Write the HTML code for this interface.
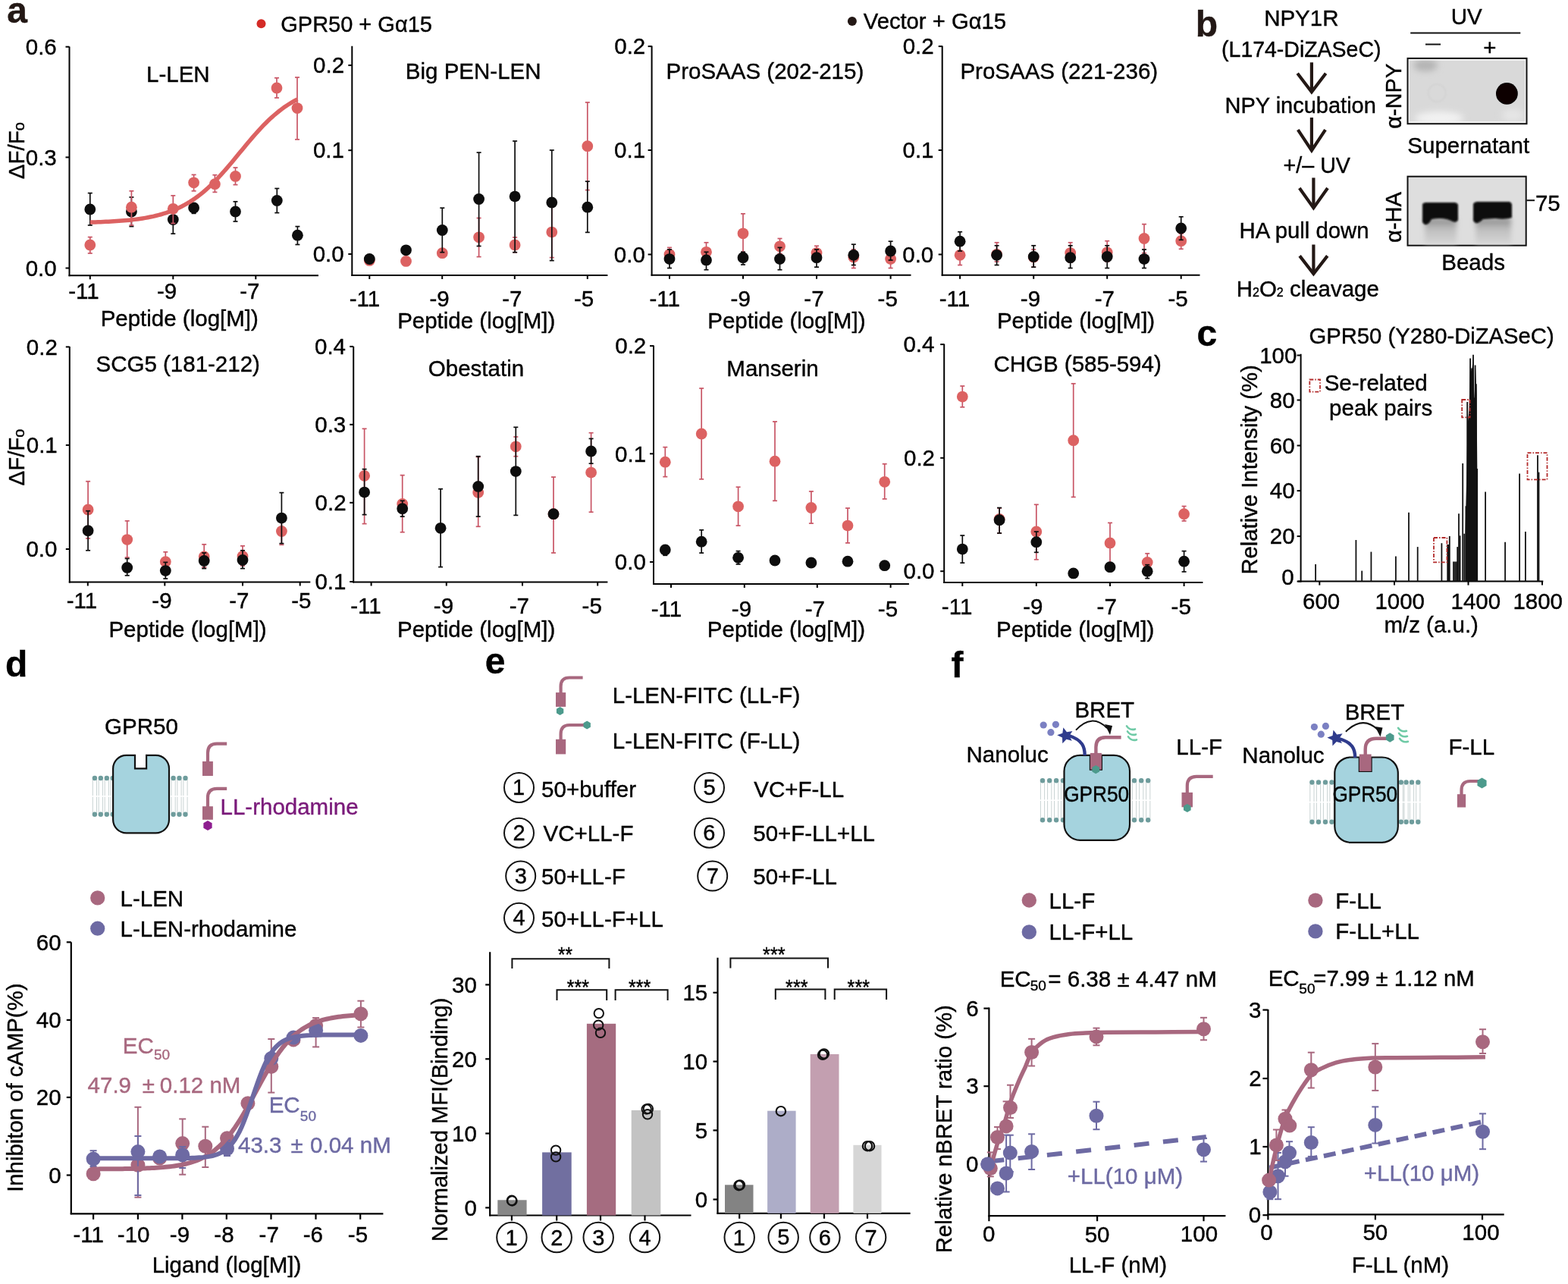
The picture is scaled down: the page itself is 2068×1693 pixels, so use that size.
<!DOCTYPE html>
<html><head><meta charset="utf-8"><title>Figure</title>
<style>html,body{margin:0;padding:0;background:#fff;overflow:hidden;width:2068px;height:1693px;}svg{display:block;}text{font-family:"Liberation Sans",Arial,sans-serif;stroke-width:0.4px;}</style>
</head><body>
<svg width="2068" height="1693" viewBox="0 0 2068 1693">
<rect width="2068" height="1693" fill="#fff"/>
<text x="9.16" y="29.90" font-size="48" fill="#231815" stroke="#231815" font-weight="bold">a</text>
<text x="1576.68" y="48.40" font-size="48" fill="#231815" stroke="#231815" font-weight="bold">b</text>
<circle cx="344.50" cy="31.30" r="6" fill="#d42b26" stroke="none" stroke-width="0"/>
<text x="370.25" y="42.40" font-size="29.5" fill="#000" stroke="#000" textLength="199.67" lengthAdjust="spacingAndGlyphs">GPR50 + Gα15</text>
<circle cx="1123.90" cy="28.10" r="6" fill="#231815" stroke="none" stroke-width="0"/>
<text x="1138.75" y="38.40" font-size="29.5" fill="#000" stroke="#000" textLength="188.30" lengthAdjust="spacingAndGlyphs">Vector + Gα15</text>
<line x1="91.50" y1="61.50" x2="91.50" y2="364.30" stroke="#000" stroke-width="2"/>
<line x1="90.50" y1="363.30" x2="420.00" y2="363.30" stroke="#000" stroke-width="2"/>
<line x1="86.50" y1="61.70" x2="91.50" y2="61.70" stroke="#000" stroke-width="2"/>
<line x1="86.50" y1="207.40" x2="91.50" y2="207.40" stroke="#000" stroke-width="2"/>
<line x1="86.50" y1="353.50" x2="91.50" y2="353.50" stroke="#000" stroke-width="2"/>
<line x1="118.80" y1="363.30" x2="118.80" y2="368.30" stroke="#000" stroke-width="2"/>
<line x1="228.30" y1="363.30" x2="228.30" y2="368.30" stroke="#000" stroke-width="2"/>
<line x1="337.30" y1="363.30" x2="337.30" y2="368.30" stroke="#000" stroke-width="2"/>
<text x="33.77" y="71.90" font-size="29.5" fill="#000" stroke="#000">0.6</text>
<text x="33.77" y="217.60" font-size="29.5" fill="#000" stroke="#000">0.3</text>
<text x="33.63" y="363.70" font-size="29.5" fill="#000" stroke="#000">0.0</text>
<text x="90.17" y="394.00" font-size="29.5" fill="#000" stroke="#000">-11</text>
<text x="206.97" y="394.00" font-size="29.5" fill="#000" stroke="#000">-9</text>
<text x="316.27" y="394.00" font-size="29.5" fill="#000" stroke="#000">-7</text>
<text x="193.04" y="107.70" font-size="29.5" fill="#000" stroke="#000">L-LEN</text>
<text x="132.64" y="429.80" font-size="29.5" fill="#000" stroke="#000">Peptide (log[M])</text>
<line x1="118.80" y1="254.60" x2="118.80" y2="276.00" stroke="#0d0d0d" stroke-width="1.7"/>
<line x1="115.80" y1="254.60" x2="121.80" y2="254.60" stroke="#0d0d0d" stroke-width="1.7"/>
<line x1="118.80" y1="276.00" x2="118.80" y2="297.00" stroke="#0d0d0d" stroke-width="1.7"/>
<line x1="115.80" y1="297.00" x2="121.80" y2="297.00" stroke="#0d0d0d" stroke-width="1.7"/>
<circle cx="118.80" cy="276.00" r="7.4" fill="#0d0d0d" stroke="none" stroke-width="0"/>
<line x1="173.40" y1="260.00" x2="173.40" y2="279.00" stroke="#0d0d0d" stroke-width="1.7"/>
<line x1="170.40" y1="260.00" x2="176.40" y2="260.00" stroke="#0d0d0d" stroke-width="1.7"/>
<line x1="173.40" y1="279.00" x2="173.40" y2="298.60" stroke="#0d0d0d" stroke-width="1.7"/>
<line x1="170.40" y1="298.60" x2="176.40" y2="298.60" stroke="#0d0d0d" stroke-width="1.7"/>
<circle cx="173.40" cy="279.00" r="7.4" fill="#0d0d0d" stroke="none" stroke-width="0"/>
<line x1="228.30" y1="271.00" x2="228.30" y2="289.60" stroke="#0d0d0d" stroke-width="1.7"/>
<line x1="225.30" y1="271.00" x2="231.30" y2="271.00" stroke="#0d0d0d" stroke-width="1.7"/>
<line x1="228.30" y1="289.60" x2="228.30" y2="308.20" stroke="#0d0d0d" stroke-width="1.7"/>
<line x1="225.30" y1="308.20" x2="231.30" y2="308.20" stroke="#0d0d0d" stroke-width="1.7"/>
<circle cx="228.30" cy="289.60" r="7.4" fill="#0d0d0d" stroke="none" stroke-width="0"/>
<line x1="255.60" y1="269.00" x2="255.60" y2="274.00" stroke="#0d0d0d" stroke-width="1.7"/>
<line x1="252.60" y1="269.00" x2="258.60" y2="269.00" stroke="#0d0d0d" stroke-width="1.7"/>
<line x1="255.60" y1="274.00" x2="255.60" y2="281.40" stroke="#0d0d0d" stroke-width="1.7"/>
<line x1="252.60" y1="281.40" x2="258.60" y2="281.40" stroke="#0d0d0d" stroke-width="1.7"/>
<circle cx="255.60" cy="274.00" r="7.4" fill="#0d0d0d" stroke="none" stroke-width="0"/>
<line x1="310.50" y1="265.80" x2="310.50" y2="279.00" stroke="#0d0d0d" stroke-width="1.7"/>
<line x1="307.50" y1="265.80" x2="313.50" y2="265.80" stroke="#0d0d0d" stroke-width="1.7"/>
<line x1="310.50" y1="279.00" x2="310.50" y2="292.00" stroke="#0d0d0d" stroke-width="1.7"/>
<line x1="307.50" y1="292.00" x2="313.50" y2="292.00" stroke="#0d0d0d" stroke-width="1.7"/>
<circle cx="310.50" cy="279.00" r="7.4" fill="#0d0d0d" stroke="none" stroke-width="0"/>
<line x1="365.30" y1="248.50" x2="365.30" y2="264.50" stroke="#0d0d0d" stroke-width="1.7"/>
<line x1="362.30" y1="248.50" x2="368.30" y2="248.50" stroke="#0d0d0d" stroke-width="1.7"/>
<line x1="365.30" y1="264.50" x2="365.30" y2="280.60" stroke="#0d0d0d" stroke-width="1.7"/>
<line x1="362.30" y1="280.60" x2="368.30" y2="280.60" stroke="#0d0d0d" stroke-width="1.7"/>
<circle cx="365.30" cy="264.50" r="7.4" fill="#0d0d0d" stroke="none" stroke-width="0"/>
<line x1="392.40" y1="298.60" x2="392.40" y2="310.20" stroke="#0d0d0d" stroke-width="1.7"/>
<line x1="389.40" y1="298.60" x2="395.40" y2="298.60" stroke="#0d0d0d" stroke-width="1.7"/>
<line x1="392.40" y1="310.20" x2="392.40" y2="322.50" stroke="#0d0d0d" stroke-width="1.7"/>
<line x1="389.40" y1="322.50" x2="395.40" y2="322.50" stroke="#0d0d0d" stroke-width="1.7"/>
<circle cx="392.40" cy="310.20" r="7.4" fill="#0d0d0d" stroke="none" stroke-width="0"/>
<line x1="118.80" y1="312.60" x2="118.80" y2="323.00" stroke="#c85565" stroke-width="1.7"/>
<line x1="115.80" y1="312.60" x2="121.80" y2="312.60" stroke="#c85565" stroke-width="1.7"/>
<line x1="118.80" y1="323.00" x2="118.80" y2="334.00" stroke="#c85565" stroke-width="1.7"/>
<line x1="115.80" y1="334.00" x2="121.80" y2="334.00" stroke="#c85565" stroke-width="1.7"/>
<circle cx="118.80" cy="323.00" r="7.4" fill="#dc6262" stroke="none" stroke-width="0"/>
<line x1="173.40" y1="251.80" x2="173.40" y2="273.20" stroke="#c85565" stroke-width="1.7"/>
<line x1="170.40" y1="251.80" x2="176.40" y2="251.80" stroke="#c85565" stroke-width="1.7"/>
<line x1="173.40" y1="273.20" x2="173.40" y2="297.00" stroke="#c85565" stroke-width="1.7"/>
<line x1="170.40" y1="297.00" x2="176.40" y2="297.00" stroke="#c85565" stroke-width="1.7"/>
<circle cx="173.40" cy="273.20" r="7.4" fill="#dc6262" stroke="none" stroke-width="0"/>
<line x1="228.30" y1="257.90" x2="228.30" y2="275.30" stroke="#c85565" stroke-width="1.7"/>
<line x1="225.30" y1="257.90" x2="231.30" y2="257.90" stroke="#c85565" stroke-width="1.7"/>
<line x1="228.30" y1="275.30" x2="228.30" y2="294.50" stroke="#c85565" stroke-width="1.7"/>
<line x1="225.30" y1="294.50" x2="231.30" y2="294.50" stroke="#c85565" stroke-width="1.7"/>
<circle cx="228.30" cy="275.30" r="7.4" fill="#dc6262" stroke="none" stroke-width="0"/>
<line x1="255.60" y1="230.40" x2="255.60" y2="240.80" stroke="#c85565" stroke-width="1.7"/>
<line x1="252.60" y1="230.40" x2="258.60" y2="230.40" stroke="#c85565" stroke-width="1.7"/>
<line x1="255.60" y1="240.80" x2="255.60" y2="251.80" stroke="#c85565" stroke-width="1.7"/>
<line x1="252.60" y1="251.80" x2="258.60" y2="251.80" stroke="#c85565" stroke-width="1.7"/>
<circle cx="255.60" cy="240.80" r="7.4" fill="#dc6262" stroke="none" stroke-width="0"/>
<line x1="283.40" y1="230.70" x2="283.40" y2="242.70" stroke="#c85565" stroke-width="1.7"/>
<line x1="280.40" y1="230.70" x2="286.40" y2="230.70" stroke="#c85565" stroke-width="1.7"/>
<line x1="283.40" y1="242.70" x2="283.40" y2="253.40" stroke="#c85565" stroke-width="1.7"/>
<line x1="280.40" y1="253.40" x2="286.40" y2="253.40" stroke="#c85565" stroke-width="1.7"/>
<circle cx="283.40" cy="242.70" r="7.4" fill="#dc6262" stroke="none" stroke-width="0"/>
<line x1="310.50" y1="221.00" x2="310.50" y2="232.40" stroke="#c85565" stroke-width="1.7"/>
<line x1="307.50" y1="221.00" x2="313.50" y2="221.00" stroke="#c85565" stroke-width="1.7"/>
<line x1="310.50" y1="232.40" x2="310.50" y2="243.60" stroke="#c85565" stroke-width="1.7"/>
<line x1="307.50" y1="243.60" x2="313.50" y2="243.60" stroke="#c85565" stroke-width="1.7"/>
<circle cx="310.50" cy="232.40" r="7.4" fill="#dc6262" stroke="none" stroke-width="0"/>
<line x1="365.00" y1="102.70" x2="365.00" y2="116.00" stroke="#c85565" stroke-width="1.7"/>
<line x1="362.00" y1="102.70" x2="368.00" y2="102.70" stroke="#c85565" stroke-width="1.7"/>
<line x1="365.00" y1="116.00" x2="365.00" y2="129.00" stroke="#c85565" stroke-width="1.7"/>
<line x1="362.00" y1="129.00" x2="368.00" y2="129.00" stroke="#c85565" stroke-width="1.7"/>
<circle cx="365.00" cy="116.00" r="7.4" fill="#dc6262" stroke="none" stroke-width="0"/>
<line x1="392.00" y1="102.00" x2="392.00" y2="142.60" stroke="#c85565" stroke-width="1.7"/>
<line x1="389.00" y1="102.00" x2="395.00" y2="102.00" stroke="#c85565" stroke-width="1.7"/>
<line x1="392.00" y1="142.60" x2="392.00" y2="183.90" stroke="#c85565" stroke-width="1.7"/>
<line x1="389.00" y1="183.90" x2="395.00" y2="183.90" stroke="#c85565" stroke-width="1.7"/>
<circle cx="392.00" cy="142.60" r="7.4" fill="#dc6262" stroke="none" stroke-width="0"/>
<path d="M118.80,293.09 L122.26,292.99 L125.73,292.89 L129.19,292.77 L132.65,292.64 L136.11,292.50 L139.58,292.35 L143.04,292.18 L146.50,292.00 L149.96,291.80 L153.43,291.58 L156.89,291.34 L160.35,291.08 L163.81,290.79 L167.28,290.48 L170.74,290.14 L174.20,289.77 L177.66,289.37 L181.13,288.93 L184.59,288.45 L188.05,287.93 L191.51,287.36 L194.98,286.74 L198.44,286.06 L201.90,285.33 L205.37,284.54 L208.83,283.68 L212.29,282.74 L215.75,281.73 L219.22,280.64 L222.68,279.45 L226.14,278.17 L229.60,276.80 L233.07,275.31 L236.53,273.72 L239.99,272.01 L243.45,270.17 L246.92,268.21 L250.38,266.12 L253.84,263.88 L257.30,261.51 L260.77,258.99 L264.23,256.33 L267.69,253.52 L271.15,250.56 L274.62,247.46 L278.08,244.21 L281.54,240.82 L285.01,237.31 L288.47,233.66 L291.93,229.90 L295.39,226.03 L298.86,222.07 L302.32,218.03 L305.78,213.92 L309.24,209.76 L312.71,205.56 L316.17,201.35 L319.63,197.15 L323.09,192.95 L326.56,188.80 L330.02,184.70 L333.48,180.66 L336.94,176.70 L340.41,172.85 L343.87,169.09 L347.33,165.46 L350.79,161.95 L354.26,158.58 L357.72,155.34 L361.18,152.25 L364.65,149.31 L368.11,146.51 L371.57,143.86 L375.03,141.35 L378.50,138.99 L381.96,136.77 L385.42,134.69 L388.88,132.74 L392.35,130.92" fill="none" stroke="#dc6262" stroke-width="5.5" stroke-linecap="butt"/>
<text transform="translate(31.60,235.40) rotate(-90)" x="-0.89" y="0" font-size="29.5" fill="#000" stroke="#000">ΔF/F<tspan font-size="20">o</tspan></text>
<line x1="464.30" y1="60.70" x2="464.30" y2="364.00" stroke="#000" stroke-width="2"/>
<line x1="463.30" y1="363.00" x2="801.40" y2="363.00" stroke="#000" stroke-width="2"/>
<line x1="459.30" y1="86.10" x2="464.30" y2="86.10" stroke="#000" stroke-width="2"/>
<line x1="459.30" y1="198.20" x2="464.30" y2="198.20" stroke="#000" stroke-width="2"/>
<line x1="459.30" y1="335.00" x2="464.30" y2="335.00" stroke="#000" stroke-width="2"/>
<line x1="487.30" y1="363.00" x2="487.30" y2="368.00" stroke="#000" stroke-width="2"/>
<line x1="583.20" y1="363.00" x2="583.20" y2="368.00" stroke="#000" stroke-width="2"/>
<line x1="678.80" y1="363.00" x2="678.80" y2="368.00" stroke="#000" stroke-width="2"/>
<line x1="774.80" y1="363.00" x2="774.80" y2="368.00" stroke="#000" stroke-width="2"/>
<text x="413.07" y="96.30" font-size="29.5" fill="#000" stroke="#000">0.2</text>
<text x="412.92" y="208.40" font-size="29.5" fill="#000" stroke="#000">0.1</text>
<text x="412.63" y="345.20" font-size="29.5" fill="#000" stroke="#000">0.0</text>
<text x="460.67" y="404.00" font-size="29.5" fill="#000" stroke="#000">-11</text>
<text x="566.47" y="404.00" font-size="29.5" fill="#000" stroke="#000">-9</text>
<text x="662.17" y="404.00" font-size="29.5" fill="#000" stroke="#000">-7</text>
<text x="756.97" y="404.00" font-size="29.5" fill="#000" stroke="#000">-5</text>
<text x="534.84" y="103.60" font-size="29.5" fill="#000" stroke="#000">Big PEN-LEN</text>
<text x="524.14" y="432.80" font-size="29.5" fill="#000" stroke="#000">Peptide (log[M])</text>
<circle cx="487.30" cy="343.40" r="7.4" fill="#dc6262" stroke="none" stroke-width="0"/>
<circle cx="535.50" cy="344.40" r="7.4" fill="#dc6262" stroke="none" stroke-width="0"/>
<circle cx="583.30" cy="333.70" r="7.4" fill="#dc6262" stroke="none" stroke-width="0"/>
<line x1="631.60" y1="287.50" x2="631.60" y2="312.80" stroke="#c85565" stroke-width="1.7"/>
<line x1="628.60" y1="287.50" x2="634.60" y2="287.50" stroke="#c85565" stroke-width="1.7"/>
<line x1="631.60" y1="312.80" x2="631.60" y2="338.60" stroke="#c85565" stroke-width="1.7"/>
<line x1="628.60" y1="338.60" x2="634.60" y2="338.60" stroke="#c85565" stroke-width="1.7"/>
<circle cx="631.60" cy="312.80" r="7.4" fill="#dc6262" stroke="none" stroke-width="0"/>
<line x1="679.10" y1="313.00" x2="679.10" y2="322.90" stroke="#c85565" stroke-width="1.7"/>
<line x1="676.10" y1="313.00" x2="682.10" y2="313.00" stroke="#c85565" stroke-width="1.7"/>
<line x1="679.10" y1="322.90" x2="679.10" y2="332.70" stroke="#c85565" stroke-width="1.7"/>
<line x1="676.10" y1="332.70" x2="682.10" y2="332.70" stroke="#c85565" stroke-width="1.7"/>
<circle cx="679.10" cy="322.90" r="7.4" fill="#dc6262" stroke="none" stroke-width="0"/>
<line x1="727.80" y1="272.40" x2="727.80" y2="306.10" stroke="#c85565" stroke-width="1.7"/>
<line x1="724.80" y1="272.40" x2="730.80" y2="272.40" stroke="#c85565" stroke-width="1.7"/>
<line x1="727.80" y1="306.10" x2="727.80" y2="339.60" stroke="#c85565" stroke-width="1.7"/>
<line x1="724.80" y1="339.60" x2="730.80" y2="339.60" stroke="#c85565" stroke-width="1.7"/>
<circle cx="727.80" cy="306.10" r="7.4" fill="#dc6262" stroke="none" stroke-width="0"/>
<line x1="774.80" y1="135.00" x2="774.80" y2="192.70" stroke="#c85565" stroke-width="1.7"/>
<line x1="771.80" y1="135.00" x2="777.80" y2="135.00" stroke="#c85565" stroke-width="1.7"/>
<line x1="774.80" y1="192.70" x2="774.80" y2="250.60" stroke="#c85565" stroke-width="1.7"/>
<line x1="771.80" y1="250.60" x2="777.80" y2="250.60" stroke="#c85565" stroke-width="1.7"/>
<circle cx="774.80" cy="192.70" r="7.4" fill="#dc6262" stroke="none" stroke-width="0"/>
<circle cx="487.30" cy="341.50" r="7.4" fill="#0d0d0d" stroke="none" stroke-width="0"/>
<circle cx="535.50" cy="329.80" r="7.4" fill="#0d0d0d" stroke="none" stroke-width="0"/>
<line x1="583.30" y1="274.20" x2="583.30" y2="303.50" stroke="#0d0d0d" stroke-width="1.7"/>
<line x1="580.30" y1="274.20" x2="586.30" y2="274.20" stroke="#0d0d0d" stroke-width="1.7"/>
<line x1="583.30" y1="303.50" x2="583.30" y2="332.70" stroke="#0d0d0d" stroke-width="1.7"/>
<line x1="580.30" y1="332.70" x2="586.30" y2="332.70" stroke="#0d0d0d" stroke-width="1.7"/>
<circle cx="583.30" cy="303.50" r="7.4" fill="#0d0d0d" stroke="none" stroke-width="0"/>
<line x1="631.60" y1="201.10" x2="631.60" y2="262.50" stroke="#0d0d0d" stroke-width="1.7"/>
<line x1="628.60" y1="201.10" x2="634.60" y2="201.10" stroke="#0d0d0d" stroke-width="1.7"/>
<line x1="631.60" y1="262.50" x2="631.60" y2="324.50" stroke="#0d0d0d" stroke-width="1.7"/>
<line x1="628.60" y1="324.50" x2="634.60" y2="324.50" stroke="#0d0d0d" stroke-width="1.7"/>
<circle cx="631.60" cy="262.50" r="7.4" fill="#0d0d0d" stroke="none" stroke-width="0"/>
<line x1="679.10" y1="186.00" x2="679.10" y2="259.10" stroke="#0d0d0d" stroke-width="1.7"/>
<line x1="676.10" y1="186.00" x2="682.10" y2="186.00" stroke="#0d0d0d" stroke-width="1.7"/>
<line x1="679.10" y1="259.10" x2="679.10" y2="332.70" stroke="#0d0d0d" stroke-width="1.7"/>
<line x1="676.10" y1="332.70" x2="682.10" y2="332.70" stroke="#0d0d0d" stroke-width="1.7"/>
<circle cx="679.10" cy="259.10" r="7.4" fill="#0d0d0d" stroke="none" stroke-width="0"/>
<line x1="727.80" y1="198.00" x2="727.80" y2="267.00" stroke="#0d0d0d" stroke-width="1.7"/>
<line x1="724.80" y1="198.00" x2="730.80" y2="198.00" stroke="#0d0d0d" stroke-width="1.7"/>
<line x1="727.80" y1="267.00" x2="727.80" y2="343.60" stroke="#0d0d0d" stroke-width="1.7"/>
<line x1="724.80" y1="343.60" x2="730.80" y2="343.60" stroke="#0d0d0d" stroke-width="1.7"/>
<circle cx="727.80" cy="267.00" r="7.4" fill="#0d0d0d" stroke="none" stroke-width="0"/>
<line x1="774.80" y1="239.20" x2="774.80" y2="273.20" stroke="#0d0d0d" stroke-width="1.7"/>
<line x1="771.80" y1="239.20" x2="777.80" y2="239.20" stroke="#0d0d0d" stroke-width="1.7"/>
<line x1="774.80" y1="273.20" x2="774.80" y2="306.40" stroke="#0d0d0d" stroke-width="1.7"/>
<line x1="771.80" y1="306.40" x2="777.80" y2="306.40" stroke="#0d0d0d" stroke-width="1.7"/>
<circle cx="774.80" cy="273.20" r="7.4" fill="#0d0d0d" stroke="none" stroke-width="0"/>
<line x1="859.60" y1="60.60" x2="859.60" y2="363.80" stroke="#000" stroke-width="2"/>
<line x1="858.60" y1="362.80" x2="1201.50" y2="362.80" stroke="#000" stroke-width="2"/>
<line x1="854.60" y1="61.10" x2="859.60" y2="61.10" stroke="#000" stroke-width="2"/>
<line x1="854.60" y1="198.00" x2="859.60" y2="198.00" stroke="#000" stroke-width="2"/>
<line x1="854.60" y1="335.50" x2="859.60" y2="335.50" stroke="#000" stroke-width="2"/>
<line x1="883.00" y1="362.80" x2="883.00" y2="367.80" stroke="#000" stroke-width="2"/>
<line x1="980.00" y1="362.80" x2="980.00" y2="367.80" stroke="#000" stroke-width="2"/>
<line x1="1077.00" y1="362.80" x2="1077.00" y2="367.80" stroke="#000" stroke-width="2"/>
<line x1="1174.60" y1="362.80" x2="1174.60" y2="367.80" stroke="#000" stroke-width="2"/>
<text x="810.27" y="71.30" font-size="29.5" fill="#000" stroke="#000">0.2</text>
<text x="810.12" y="208.20" font-size="29.5" fill="#000" stroke="#000">0.1</text>
<text x="809.83" y="345.70" font-size="29.5" fill="#000" stroke="#000">0.0</text>
<text x="856.47" y="403.50" font-size="29.5" fill="#000" stroke="#000">-11</text>
<text x="963.57" y="403.50" font-size="29.5" fill="#000" stroke="#000">-9</text>
<text x="1060.37" y="403.50" font-size="29.5" fill="#000" stroke="#000">-7</text>
<text x="1157.57" y="403.50" font-size="29.5" fill="#000" stroke="#000">-5</text>
<text x="878.54" y="104.20" font-size="29.5" fill="#000" stroke="#000">ProSAAS (202-215)</text>
<text x="933.24" y="432.80" font-size="29.5" fill="#000" stroke="#000">Peptide (log[M])</text>
<line x1="883.00" y1="326.40" x2="883.00" y2="335.50" stroke="#c85565" stroke-width="1.7"/>
<line x1="880.00" y1="326.40" x2="886.00" y2="326.40" stroke="#c85565" stroke-width="1.7"/>
<line x1="883.00" y1="335.50" x2="883.00" y2="345.00" stroke="#c85565" stroke-width="1.7"/>
<line x1="880.00" y1="345.00" x2="886.00" y2="345.00" stroke="#c85565" stroke-width="1.7"/>
<circle cx="883.00" cy="335.50" r="7.4" fill="#dc6262" stroke="none" stroke-width="0"/>
<line x1="931.50" y1="319.80" x2="931.50" y2="332.30" stroke="#c85565" stroke-width="1.7"/>
<line x1="928.50" y1="319.80" x2="934.50" y2="319.80" stroke="#c85565" stroke-width="1.7"/>
<line x1="931.50" y1="332.30" x2="931.50" y2="343.00" stroke="#c85565" stroke-width="1.7"/>
<line x1="928.50" y1="343.00" x2="934.50" y2="343.00" stroke="#c85565" stroke-width="1.7"/>
<circle cx="931.50" cy="332.30" r="7.4" fill="#dc6262" stroke="none" stroke-width="0"/>
<line x1="980.00" y1="281.80" x2="980.00" y2="307.80" stroke="#c85565" stroke-width="1.7"/>
<line x1="977.00" y1="281.80" x2="983.00" y2="281.80" stroke="#c85565" stroke-width="1.7"/>
<line x1="980.00" y1="307.80" x2="980.00" y2="332.30" stroke="#c85565" stroke-width="1.7"/>
<line x1="977.00" y1="332.30" x2="983.00" y2="332.30" stroke="#c85565" stroke-width="1.7"/>
<circle cx="980.00" cy="307.80" r="7.4" fill="#dc6262" stroke="none" stroke-width="0"/>
<line x1="1028.50" y1="314.50" x2="1028.50" y2="324.80" stroke="#c85565" stroke-width="1.7"/>
<line x1="1025.50" y1="314.50" x2="1031.50" y2="314.50" stroke="#c85565" stroke-width="1.7"/>
<line x1="1028.50" y1="324.80" x2="1028.50" y2="334.40" stroke="#c85565" stroke-width="1.7"/>
<line x1="1025.50" y1="334.40" x2="1031.50" y2="334.40" stroke="#c85565" stroke-width="1.7"/>
<circle cx="1028.50" cy="324.80" r="7.4" fill="#dc6262" stroke="none" stroke-width="0"/>
<line x1="1077.00" y1="324.30" x2="1077.00" y2="333.60" stroke="#c85565" stroke-width="1.7"/>
<line x1="1074.00" y1="324.30" x2="1080.00" y2="324.30" stroke="#c85565" stroke-width="1.7"/>
<line x1="1077.00" y1="333.60" x2="1077.00" y2="343.00" stroke="#c85565" stroke-width="1.7"/>
<line x1="1074.00" y1="343.00" x2="1080.00" y2="343.00" stroke="#c85565" stroke-width="1.7"/>
<circle cx="1077.00" cy="333.60" r="7.4" fill="#dc6262" stroke="none" stroke-width="0"/>
<line x1="1125.80" y1="329.00" x2="1125.80" y2="338.90" stroke="#c85565" stroke-width="1.7"/>
<line x1="1122.80" y1="329.00" x2="1128.80" y2="329.00" stroke="#c85565" stroke-width="1.7"/>
<line x1="1125.80" y1="338.90" x2="1125.80" y2="353.50" stroke="#c85565" stroke-width="1.7"/>
<line x1="1122.80" y1="353.50" x2="1128.80" y2="353.50" stroke="#c85565" stroke-width="1.7"/>
<circle cx="1125.80" cy="338.90" r="7.4" fill="#dc6262" stroke="none" stroke-width="0"/>
<line x1="1174.60" y1="331.00" x2="1174.60" y2="341.60" stroke="#c85565" stroke-width="1.7"/>
<line x1="1171.60" y1="331.00" x2="1177.60" y2="331.00" stroke="#c85565" stroke-width="1.7"/>
<line x1="1174.60" y1="341.60" x2="1174.60" y2="353.50" stroke="#c85565" stroke-width="1.7"/>
<line x1="1171.60" y1="353.50" x2="1177.60" y2="353.50" stroke="#c85565" stroke-width="1.7"/>
<circle cx="1174.60" cy="341.60" r="7.4" fill="#dc6262" stroke="none" stroke-width="0"/>
<line x1="883.00" y1="329.00" x2="883.00" y2="341.60" stroke="#0d0d0d" stroke-width="1.7"/>
<line x1="880.00" y1="329.00" x2="886.00" y2="329.00" stroke="#0d0d0d" stroke-width="1.7"/>
<line x1="883.00" y1="341.60" x2="883.00" y2="353.50" stroke="#0d0d0d" stroke-width="1.7"/>
<line x1="880.00" y1="353.50" x2="886.00" y2="353.50" stroke="#0d0d0d" stroke-width="1.7"/>
<circle cx="883.00" cy="341.60" r="7.4" fill="#0d0d0d" stroke="none" stroke-width="0"/>
<line x1="931.50" y1="332.30" x2="931.50" y2="342.90" stroke="#0d0d0d" stroke-width="1.7"/>
<line x1="928.50" y1="332.30" x2="934.50" y2="332.30" stroke="#0d0d0d" stroke-width="1.7"/>
<line x1="931.50" y1="342.90" x2="931.50" y2="355.70" stroke="#0d0d0d" stroke-width="1.7"/>
<line x1="928.50" y1="355.70" x2="934.50" y2="355.70" stroke="#0d0d0d" stroke-width="1.7"/>
<circle cx="931.50" cy="342.90" r="7.4" fill="#0d0d0d" stroke="none" stroke-width="0"/>
<line x1="980.00" y1="332.30" x2="980.00" y2="339.70" stroke="#0d0d0d" stroke-width="1.7"/>
<line x1="977.00" y1="332.30" x2="983.00" y2="332.30" stroke="#0d0d0d" stroke-width="1.7"/>
<line x1="980.00" y1="339.70" x2="980.00" y2="349.00" stroke="#0d0d0d" stroke-width="1.7"/>
<line x1="977.00" y1="349.00" x2="983.00" y2="349.00" stroke="#0d0d0d" stroke-width="1.7"/>
<circle cx="980.00" cy="339.70" r="7.4" fill="#0d0d0d" stroke="none" stroke-width="0"/>
<line x1="1028.50" y1="326.40" x2="1028.50" y2="341.60" stroke="#0d0d0d" stroke-width="1.7"/>
<line x1="1025.50" y1="326.40" x2="1031.50" y2="326.40" stroke="#0d0d0d" stroke-width="1.7"/>
<line x1="1028.50" y1="341.60" x2="1028.50" y2="355.70" stroke="#0d0d0d" stroke-width="1.7"/>
<line x1="1025.50" y1="355.70" x2="1031.50" y2="355.70" stroke="#0d0d0d" stroke-width="1.7"/>
<circle cx="1028.50" cy="341.60" r="7.4" fill="#0d0d0d" stroke="none" stroke-width="0"/>
<line x1="1077.00" y1="329.00" x2="1077.00" y2="339.70" stroke="#0d0d0d" stroke-width="1.7"/>
<line x1="1074.00" y1="329.00" x2="1080.00" y2="329.00" stroke="#0d0d0d" stroke-width="1.7"/>
<line x1="1077.00" y1="339.70" x2="1077.00" y2="352.20" stroke="#0d0d0d" stroke-width="1.7"/>
<line x1="1074.00" y1="352.20" x2="1080.00" y2="352.20" stroke="#0d0d0d" stroke-width="1.7"/>
<circle cx="1077.00" cy="339.70" r="7.4" fill="#0d0d0d" stroke="none" stroke-width="0"/>
<line x1="1125.80" y1="322.20" x2="1125.80" y2="336.30" stroke="#0d0d0d" stroke-width="1.7"/>
<line x1="1122.80" y1="322.20" x2="1128.80" y2="322.20" stroke="#0d0d0d" stroke-width="1.7"/>
<line x1="1125.80" y1="336.30" x2="1125.80" y2="349.50" stroke="#0d0d0d" stroke-width="1.7"/>
<line x1="1122.80" y1="349.50" x2="1128.80" y2="349.50" stroke="#0d0d0d" stroke-width="1.7"/>
<circle cx="1125.80" cy="336.30" r="7.4" fill="#0d0d0d" stroke="none" stroke-width="0"/>
<line x1="1174.60" y1="318.20" x2="1174.60" y2="331.00" stroke="#0d0d0d" stroke-width="1.7"/>
<line x1="1171.60" y1="318.20" x2="1177.60" y2="318.20" stroke="#0d0d0d" stroke-width="1.7"/>
<line x1="1174.60" y1="331.00" x2="1174.60" y2="343.00" stroke="#0d0d0d" stroke-width="1.7"/>
<line x1="1171.60" y1="343.00" x2="1177.60" y2="343.00" stroke="#0d0d0d" stroke-width="1.7"/>
<circle cx="1174.60" cy="331.00" r="7.4" fill="#0d0d0d" stroke="none" stroke-width="0"/>
<line x1="1242.70" y1="60.60" x2="1242.70" y2="363.80" stroke="#000" stroke-width="2"/>
<line x1="1241.70" y1="362.80" x2="1582.50" y2="362.80" stroke="#000" stroke-width="2"/>
<line x1="1237.70" y1="61.10" x2="1242.70" y2="61.10" stroke="#000" stroke-width="2"/>
<line x1="1237.70" y1="198.00" x2="1242.70" y2="198.00" stroke="#000" stroke-width="2"/>
<line x1="1237.70" y1="335.50" x2="1242.70" y2="335.50" stroke="#000" stroke-width="2"/>
<line x1="1266.10" y1="362.80" x2="1266.10" y2="367.80" stroke="#000" stroke-width="2"/>
<line x1="1363.20" y1="362.80" x2="1363.20" y2="367.80" stroke="#000" stroke-width="2"/>
<line x1="1460.20" y1="362.80" x2="1460.20" y2="367.80" stroke="#000" stroke-width="2"/>
<line x1="1557.70" y1="362.80" x2="1557.70" y2="367.80" stroke="#000" stroke-width="2"/>
<text x="1190.67" y="71.30" font-size="29.5" fill="#000" stroke="#000">0.2</text>
<text x="1190.52" y="208.20" font-size="29.5" fill="#000" stroke="#000">0.1</text>
<text x="1190.23" y="345.70" font-size="29.5" fill="#000" stroke="#000">0.0</text>
<text x="1238.77" y="403.50" font-size="29.5" fill="#000" stroke="#000">-11</text>
<text x="1345.87" y="403.50" font-size="29.5" fill="#000" stroke="#000">-9</text>
<text x="1443.67" y="403.50" font-size="29.5" fill="#000" stroke="#000">-7</text>
<text x="1540.47" y="403.50" font-size="29.5" fill="#000" stroke="#000">-5</text>
<text x="1266.44" y="104.20" font-size="29.5" fill="#000" stroke="#000">ProSAAS (221-236)</text>
<text x="1314.94" y="432.80" font-size="29.5" fill="#000" stroke="#000">Peptide (log[M])</text>
<line x1="1266.10" y1="321.60" x2="1266.10" y2="336.30" stroke="#c85565" stroke-width="1.7"/>
<line x1="1263.10" y1="321.60" x2="1269.10" y2="321.60" stroke="#c85565" stroke-width="1.7"/>
<line x1="1266.10" y1="336.30" x2="1266.10" y2="349.50" stroke="#c85565" stroke-width="1.7"/>
<line x1="1263.10" y1="349.50" x2="1269.10" y2="349.50" stroke="#c85565" stroke-width="1.7"/>
<circle cx="1266.10" cy="336.30" r="7.4" fill="#dc6262" stroke="none" stroke-width="0"/>
<line x1="1314.60" y1="319.80" x2="1314.60" y2="335.50" stroke="#c85565" stroke-width="1.7"/>
<line x1="1311.60" y1="319.80" x2="1317.60" y2="319.80" stroke="#c85565" stroke-width="1.7"/>
<line x1="1314.60" y1="335.50" x2="1314.60" y2="345.00" stroke="#c85565" stroke-width="1.7"/>
<line x1="1311.60" y1="345.00" x2="1317.60" y2="345.00" stroke="#c85565" stroke-width="1.7"/>
<circle cx="1314.60" cy="335.50" r="7.4" fill="#dc6262" stroke="none" stroke-width="0"/>
<line x1="1363.20" y1="329.00" x2="1363.20" y2="338.90" stroke="#c85565" stroke-width="1.7"/>
<line x1="1360.20" y1="329.00" x2="1366.20" y2="329.00" stroke="#c85565" stroke-width="1.7"/>
<line x1="1363.20" y1="338.90" x2="1363.20" y2="352.20" stroke="#c85565" stroke-width="1.7"/>
<line x1="1360.20" y1="352.20" x2="1366.20" y2="352.20" stroke="#c85565" stroke-width="1.7"/>
<circle cx="1363.20" cy="338.90" r="7.4" fill="#dc6262" stroke="none" stroke-width="0"/>
<line x1="1411.70" y1="319.80" x2="1411.70" y2="333.60" stroke="#c85565" stroke-width="1.7"/>
<line x1="1408.70" y1="319.80" x2="1414.70" y2="319.80" stroke="#c85565" stroke-width="1.7"/>
<line x1="1411.70" y1="333.60" x2="1411.70" y2="346.00" stroke="#c85565" stroke-width="1.7"/>
<line x1="1408.70" y1="346.00" x2="1414.70" y2="346.00" stroke="#c85565" stroke-width="1.7"/>
<circle cx="1411.70" cy="333.60" r="7.4" fill="#dc6262" stroke="none" stroke-width="0"/>
<line x1="1460.20" y1="317.70" x2="1460.20" y2="332.80" stroke="#c85565" stroke-width="1.7"/>
<line x1="1457.20" y1="317.70" x2="1463.20" y2="317.70" stroke="#c85565" stroke-width="1.7"/>
<line x1="1460.20" y1="332.80" x2="1460.20" y2="345.00" stroke="#c85565" stroke-width="1.7"/>
<line x1="1457.20" y1="345.00" x2="1463.20" y2="345.00" stroke="#c85565" stroke-width="1.7"/>
<circle cx="1460.20" cy="332.80" r="7.4" fill="#dc6262" stroke="none" stroke-width="0"/>
<line x1="1509.00" y1="295.60" x2="1509.00" y2="314.50" stroke="#c85565" stroke-width="1.7"/>
<line x1="1506.00" y1="295.60" x2="1512.00" y2="295.60" stroke="#c85565" stroke-width="1.7"/>
<line x1="1509.00" y1="314.50" x2="1509.00" y2="333.60" stroke="#c85565" stroke-width="1.7"/>
<line x1="1506.00" y1="333.60" x2="1512.00" y2="333.60" stroke="#c85565" stroke-width="1.7"/>
<circle cx="1509.00" cy="314.50" r="7.4" fill="#dc6262" stroke="none" stroke-width="0"/>
<line x1="1557.70" y1="308.30" x2="1557.70" y2="317.70" stroke="#c85565" stroke-width="1.7"/>
<line x1="1554.70" y1="308.30" x2="1560.70" y2="308.30" stroke="#c85565" stroke-width="1.7"/>
<line x1="1557.70" y1="317.70" x2="1557.70" y2="328.30" stroke="#c85565" stroke-width="1.7"/>
<line x1="1554.70" y1="328.30" x2="1560.70" y2="328.30" stroke="#c85565" stroke-width="1.7"/>
<circle cx="1557.70" cy="317.70" r="7.4" fill="#dc6262" stroke="none" stroke-width="0"/>
<line x1="1266.10" y1="305.70" x2="1266.10" y2="318.20" stroke="#0d0d0d" stroke-width="1.7"/>
<line x1="1263.10" y1="305.70" x2="1269.10" y2="305.70" stroke="#0d0d0d" stroke-width="1.7"/>
<line x1="1266.10" y1="318.20" x2="1266.10" y2="331.00" stroke="#0d0d0d" stroke-width="1.7"/>
<line x1="1263.10" y1="331.00" x2="1269.10" y2="331.00" stroke="#0d0d0d" stroke-width="1.7"/>
<circle cx="1266.10" cy="318.20" r="7.4" fill="#0d0d0d" stroke="none" stroke-width="0"/>
<line x1="1314.60" y1="323.80" x2="1314.60" y2="336.30" stroke="#0d0d0d" stroke-width="1.7"/>
<line x1="1311.60" y1="323.80" x2="1317.60" y2="323.80" stroke="#0d0d0d" stroke-width="1.7"/>
<line x1="1314.60" y1="336.30" x2="1314.60" y2="349.50" stroke="#0d0d0d" stroke-width="1.7"/>
<line x1="1311.60" y1="349.50" x2="1317.60" y2="349.50" stroke="#0d0d0d" stroke-width="1.7"/>
<circle cx="1314.60" cy="336.30" r="7.4" fill="#0d0d0d" stroke="none" stroke-width="0"/>
<line x1="1363.20" y1="323.80" x2="1363.20" y2="338.40" stroke="#0d0d0d" stroke-width="1.7"/>
<line x1="1360.20" y1="323.80" x2="1366.20" y2="323.80" stroke="#0d0d0d" stroke-width="1.7"/>
<line x1="1363.20" y1="338.40" x2="1363.20" y2="352.20" stroke="#0d0d0d" stroke-width="1.7"/>
<line x1="1360.20" y1="352.20" x2="1366.20" y2="352.20" stroke="#0d0d0d" stroke-width="1.7"/>
<circle cx="1363.20" cy="338.40" r="7.4" fill="#0d0d0d" stroke="none" stroke-width="0"/>
<line x1="1411.70" y1="323.80" x2="1411.70" y2="339.70" stroke="#0d0d0d" stroke-width="1.7"/>
<line x1="1408.70" y1="323.80" x2="1414.70" y2="323.80" stroke="#0d0d0d" stroke-width="1.7"/>
<line x1="1411.70" y1="339.70" x2="1411.70" y2="353.50" stroke="#0d0d0d" stroke-width="1.7"/>
<line x1="1408.70" y1="353.50" x2="1414.70" y2="353.50" stroke="#0d0d0d" stroke-width="1.7"/>
<circle cx="1411.70" cy="339.70" r="7.4" fill="#0d0d0d" stroke="none" stroke-width="0"/>
<line x1="1460.20" y1="323.80" x2="1460.20" y2="338.40" stroke="#0d0d0d" stroke-width="1.7"/>
<line x1="1457.20" y1="323.80" x2="1463.20" y2="323.80" stroke="#0d0d0d" stroke-width="1.7"/>
<line x1="1460.20" y1="338.40" x2="1460.20" y2="353.50" stroke="#0d0d0d" stroke-width="1.7"/>
<line x1="1457.20" y1="353.50" x2="1463.20" y2="353.50" stroke="#0d0d0d" stroke-width="1.7"/>
<circle cx="1460.20" cy="338.40" r="7.4" fill="#0d0d0d" stroke="none" stroke-width="0"/>
<line x1="1509.00" y1="329.00" x2="1509.00" y2="341.60" stroke="#0d0d0d" stroke-width="1.7"/>
<line x1="1506.00" y1="329.00" x2="1512.00" y2="329.00" stroke="#0d0d0d" stroke-width="1.7"/>
<line x1="1509.00" y1="341.60" x2="1509.00" y2="353.50" stroke="#0d0d0d" stroke-width="1.7"/>
<line x1="1506.00" y1="353.50" x2="1512.00" y2="353.50" stroke="#0d0d0d" stroke-width="1.7"/>
<circle cx="1509.00" cy="341.60" r="7.4" fill="#0d0d0d" stroke="none" stroke-width="0"/>
<line x1="1557.70" y1="285.80" x2="1557.70" y2="300.90" stroke="#0d0d0d" stroke-width="1.7"/>
<line x1="1554.70" y1="285.80" x2="1560.70" y2="285.80" stroke="#0d0d0d" stroke-width="1.7"/>
<line x1="1557.70" y1="300.90" x2="1557.70" y2="316.30" stroke="#0d0d0d" stroke-width="1.7"/>
<line x1="1554.70" y1="316.30" x2="1560.70" y2="316.30" stroke="#0d0d0d" stroke-width="1.7"/>
<circle cx="1557.70" cy="300.90" r="7.4" fill="#0d0d0d" stroke="none" stroke-width="0"/>
<line x1="91.80" y1="456.90" x2="91.80" y2="768.50" stroke="#000" stroke-width="2"/>
<line x1="90.80" y1="767.50" x2="409.30" y2="767.50" stroke="#000" stroke-width="2"/>
<line x1="86.80" y1="457.40" x2="91.80" y2="457.40" stroke="#000" stroke-width="2"/>
<line x1="86.80" y1="586.90" x2="91.80" y2="586.90" stroke="#000" stroke-width="2"/>
<line x1="86.80" y1="724.00" x2="91.80" y2="724.00" stroke="#000" stroke-width="2"/>
<line x1="115.80" y1="767.50" x2="115.80" y2="772.50" stroke="#000" stroke-width="2"/>
<line x1="217.30" y1="767.50" x2="217.30" y2="772.50" stroke="#000" stroke-width="2"/>
<line x1="320.00" y1="767.50" x2="320.00" y2="772.50" stroke="#000" stroke-width="2"/>
<line x1="395.70" y1="767.50" x2="395.70" y2="772.50" stroke="#000" stroke-width="2"/>
<text x="34.87" y="467.60" font-size="29.5" fill="#000" stroke="#000">0.2</text>
<text x="34.72" y="597.10" font-size="29.5" fill="#000" stroke="#000">0.1</text>
<text x="34.43" y="734.20" font-size="29.5" fill="#000" stroke="#000">0.0</text>
<text x="87.67" y="802.10" font-size="29.5" fill="#000" stroke="#000">-11</text>
<text x="200.37" y="802.10" font-size="29.5" fill="#000" stroke="#000">-9</text>
<text x="302.27" y="802.10" font-size="29.5" fill="#000" stroke="#000">-7</text>
<text x="384.17" y="802.10" font-size="29.5" fill="#000" stroke="#000">-5</text>
<text x="126.47" y="489.60" font-size="29.5" fill="#000" stroke="#000">SCG5 (181-212)</text>
<text x="143.44" y="839.90" font-size="29.5" fill="#000" stroke="#000">Peptide (log[M])</text>
<line x1="116.10" y1="634.70" x2="116.10" y2="672.00" stroke="#c85565" stroke-width="1.7"/>
<line x1="113.10" y1="634.70" x2="119.10" y2="634.70" stroke="#c85565" stroke-width="1.7"/>
<line x1="116.10" y1="672.00" x2="116.10" y2="709.90" stroke="#c85565" stroke-width="1.7"/>
<line x1="113.10" y1="709.90" x2="119.10" y2="709.90" stroke="#c85565" stroke-width="1.7"/>
<circle cx="116.10" cy="672.00" r="7.4" fill="#dc6262" stroke="none" stroke-width="0"/>
<line x1="167.70" y1="686.80" x2="167.70" y2="711.60" stroke="#c85565" stroke-width="1.7"/>
<line x1="164.70" y1="686.80" x2="170.70" y2="686.80" stroke="#c85565" stroke-width="1.7"/>
<line x1="167.70" y1="711.60" x2="167.70" y2="735.00" stroke="#c85565" stroke-width="1.7"/>
<line x1="164.70" y1="735.00" x2="170.70" y2="735.00" stroke="#c85565" stroke-width="1.7"/>
<circle cx="167.70" cy="711.60" r="7.4" fill="#dc6262" stroke="none" stroke-width="0"/>
<line x1="218.30" y1="727.80" x2="218.30" y2="740.70" stroke="#c85565" stroke-width="1.7"/>
<line x1="215.30" y1="727.80" x2="221.30" y2="727.80" stroke="#c85565" stroke-width="1.7"/>
<line x1="218.30" y1="740.70" x2="218.30" y2="752.00" stroke="#c85565" stroke-width="1.7"/>
<line x1="215.30" y1="752.00" x2="221.30" y2="752.00" stroke="#c85565" stroke-width="1.7"/>
<circle cx="218.30" cy="740.70" r="7.4" fill="#dc6262" stroke="none" stroke-width="0"/>
<line x1="269.20" y1="717.80" x2="269.20" y2="734.00" stroke="#c85565" stroke-width="1.7"/>
<line x1="266.20" y1="717.80" x2="272.20" y2="717.80" stroke="#c85565" stroke-width="1.7"/>
<line x1="269.20" y1="734.00" x2="269.20" y2="748.00" stroke="#c85565" stroke-width="1.7"/>
<line x1="266.20" y1="748.00" x2="272.20" y2="748.00" stroke="#c85565" stroke-width="1.7"/>
<circle cx="269.20" cy="734.00" r="7.4" fill="#dc6262" stroke="none" stroke-width="0"/>
<line x1="320.00" y1="719.80" x2="320.00" y2="733.50" stroke="#c85565" stroke-width="1.7"/>
<line x1="317.00" y1="719.80" x2="323.00" y2="719.80" stroke="#c85565" stroke-width="1.7"/>
<line x1="320.00" y1="733.50" x2="320.00" y2="746.00" stroke="#c85565" stroke-width="1.7"/>
<line x1="317.00" y1="746.00" x2="323.00" y2="746.00" stroke="#c85565" stroke-width="1.7"/>
<circle cx="320.00" cy="733.50" r="7.4" fill="#dc6262" stroke="none" stroke-width="0"/>
<line x1="371.40" y1="688.00" x2="371.40" y2="700.50" stroke="#c85565" stroke-width="1.7"/>
<line x1="368.40" y1="688.00" x2="374.40" y2="688.00" stroke="#c85565" stroke-width="1.7"/>
<line x1="371.40" y1="700.50" x2="371.40" y2="718.30" stroke="#c85565" stroke-width="1.7"/>
<line x1="368.40" y1="718.30" x2="374.40" y2="718.30" stroke="#c85565" stroke-width="1.7"/>
<circle cx="371.40" cy="700.50" r="7.4" fill="#dc6262" stroke="none" stroke-width="0"/>
<line x1="116.10" y1="673.70" x2="116.10" y2="699.70" stroke="#0d0d0d" stroke-width="1.7"/>
<line x1="113.10" y1="673.70" x2="119.10" y2="673.70" stroke="#0d0d0d" stroke-width="1.7"/>
<line x1="116.10" y1="699.70" x2="116.10" y2="725.80" stroke="#0d0d0d" stroke-width="1.7"/>
<line x1="113.10" y1="725.80" x2="119.10" y2="725.80" stroke="#0d0d0d" stroke-width="1.7"/>
<circle cx="116.10" cy="699.70" r="7.4" fill="#0d0d0d" stroke="none" stroke-width="0"/>
<line x1="167.70" y1="736.50" x2="167.70" y2="748.40" stroke="#0d0d0d" stroke-width="1.7"/>
<line x1="164.70" y1="736.50" x2="170.70" y2="736.50" stroke="#0d0d0d" stroke-width="1.7"/>
<line x1="167.70" y1="748.40" x2="167.70" y2="758.80" stroke="#0d0d0d" stroke-width="1.7"/>
<line x1="164.70" y1="758.80" x2="170.70" y2="758.80" stroke="#0d0d0d" stroke-width="1.7"/>
<circle cx="167.70" cy="748.40" r="7.4" fill="#0d0d0d" stroke="none" stroke-width="0"/>
<line x1="218.30" y1="741.40" x2="218.30" y2="752.60" stroke="#0d0d0d" stroke-width="1.7"/>
<line x1="215.30" y1="741.40" x2="221.30" y2="741.40" stroke="#0d0d0d" stroke-width="1.7"/>
<line x1="218.30" y1="752.60" x2="218.30" y2="763.00" stroke="#0d0d0d" stroke-width="1.7"/>
<line x1="215.30" y1="763.00" x2="221.30" y2="763.00" stroke="#0d0d0d" stroke-width="1.7"/>
<circle cx="218.30" cy="752.60" r="7.4" fill="#0d0d0d" stroke="none" stroke-width="0"/>
<line x1="269.20" y1="729.00" x2="269.20" y2="739.40" stroke="#0d0d0d" stroke-width="1.7"/>
<line x1="266.20" y1="729.00" x2="272.20" y2="729.00" stroke="#0d0d0d" stroke-width="1.7"/>
<line x1="269.20" y1="739.40" x2="269.20" y2="749.60" stroke="#0d0d0d" stroke-width="1.7"/>
<line x1="266.20" y1="749.60" x2="272.20" y2="749.60" stroke="#0d0d0d" stroke-width="1.7"/>
<circle cx="269.20" cy="739.40" r="7.4" fill="#0d0d0d" stroke="none" stroke-width="0"/>
<line x1="320.00" y1="725.80" x2="320.00" y2="738.40" stroke="#0d0d0d" stroke-width="1.7"/>
<line x1="317.00" y1="725.80" x2="323.00" y2="725.80" stroke="#0d0d0d" stroke-width="1.7"/>
<line x1="320.00" y1="738.40" x2="320.00" y2="749.60" stroke="#0d0d0d" stroke-width="1.7"/>
<line x1="317.00" y1="749.60" x2="323.00" y2="749.60" stroke="#0d0d0d" stroke-width="1.7"/>
<circle cx="320.00" cy="738.40" r="7.4" fill="#0d0d0d" stroke="none" stroke-width="0"/>
<line x1="371.40" y1="649.60" x2="371.40" y2="683.10" stroke="#0d0d0d" stroke-width="1.7"/>
<line x1="368.40" y1="649.60" x2="374.40" y2="649.60" stroke="#0d0d0d" stroke-width="1.7"/>
<line x1="371.40" y1="683.10" x2="371.40" y2="716.60" stroke="#0d0d0d" stroke-width="1.7"/>
<line x1="368.40" y1="716.60" x2="374.40" y2="716.60" stroke="#0d0d0d" stroke-width="1.7"/>
<circle cx="371.40" cy="683.10" r="7.4" fill="#0d0d0d" stroke="none" stroke-width="0"/>
<text transform="translate(31.60,639.70) rotate(-90)" x="-0.89" y="0" font-size="29.5" fill="#000" stroke="#000">ΔF/F<tspan font-size="20">o</tspan></text>
<line x1="466.20" y1="456.90" x2="466.20" y2="768.50" stroke="#000" stroke-width="2"/>
<line x1="465.20" y1="767.50" x2="801.40" y2="767.50" stroke="#000" stroke-width="2"/>
<line x1="461.20" y1="456.90" x2="466.20" y2="456.90" stroke="#000" stroke-width="2"/>
<line x1="461.20" y1="559.80" x2="466.20" y2="559.80" stroke="#000" stroke-width="2"/>
<line x1="461.20" y1="662.80" x2="466.20" y2="662.80" stroke="#000" stroke-width="2"/>
<line x1="461.20" y1="767.00" x2="466.20" y2="767.00" stroke="#000" stroke-width="2"/>
<line x1="489.60" y1="767.50" x2="489.60" y2="772.50" stroke="#000" stroke-width="2"/>
<line x1="588.80" y1="767.50" x2="588.80" y2="772.50" stroke="#000" stroke-width="2"/>
<line x1="689.00" y1="767.50" x2="689.00" y2="772.50" stroke="#000" stroke-width="2"/>
<line x1="788.20" y1="767.50" x2="788.20" y2="772.50" stroke="#000" stroke-width="2"/>
<text x="414.98" y="467.10" font-size="29.5" fill="#000" stroke="#000">0.4</text>
<text x="415.28" y="570.00" font-size="29.5" fill="#000" stroke="#000">0.3</text>
<text x="415.57" y="673.00" font-size="29.5" fill="#000" stroke="#000">0.2</text>
<text x="415.42" y="777.20" font-size="29.5" fill="#000" stroke="#000">0.1</text>
<text x="462.17" y="808.70" font-size="29.5" fill="#000" stroke="#000">-11</text>
<text x="571.87" y="808.70" font-size="29.5" fill="#000" stroke="#000">-9</text>
<text x="671.67" y="808.70" font-size="29.5" fill="#000" stroke="#000">-7</text>
<text x="767.57" y="808.70" font-size="29.5" fill="#000" stroke="#000">-5</text>
<text x="564.87" y="495.80" font-size="29.5" fill="#000" stroke="#000">Obestatin</text>
<text x="524.04" y="839.90" font-size="29.5" fill="#000" stroke="#000">Peptide (log[M])</text>
<line x1="480.60" y1="565.30" x2="480.60" y2="627.30" stroke="#c85565" stroke-width="1.7"/>
<line x1="477.60" y1="565.30" x2="483.60" y2="565.30" stroke="#c85565" stroke-width="1.7"/>
<line x1="480.60" y1="627.30" x2="480.60" y2="690.60" stroke="#c85565" stroke-width="1.7"/>
<line x1="477.60" y1="690.60" x2="483.60" y2="690.60" stroke="#c85565" stroke-width="1.7"/>
<circle cx="480.60" cy="627.30" r="7.4" fill="#dc6262" stroke="none" stroke-width="0"/>
<line x1="530.70" y1="626.60" x2="530.70" y2="664.50" stroke="#c85565" stroke-width="1.7"/>
<line x1="527.70" y1="626.60" x2="533.70" y2="626.60" stroke="#c85565" stroke-width="1.7"/>
<line x1="530.70" y1="664.50" x2="530.70" y2="701.70" stroke="#c85565" stroke-width="1.7"/>
<line x1="527.70" y1="701.70" x2="533.70" y2="701.70" stroke="#c85565" stroke-width="1.7"/>
<circle cx="530.70" cy="664.50" r="7.4" fill="#dc6262" stroke="none" stroke-width="0"/>
<line x1="630.70" y1="602.50" x2="630.70" y2="649.60" stroke="#c85565" stroke-width="1.7"/>
<line x1="627.70" y1="602.50" x2="633.70" y2="602.50" stroke="#c85565" stroke-width="1.7"/>
<line x1="630.70" y1="649.60" x2="630.70" y2="694.30" stroke="#c85565" stroke-width="1.7"/>
<line x1="627.70" y1="694.30" x2="633.70" y2="694.30" stroke="#c85565" stroke-width="1.7"/>
<circle cx="630.70" cy="649.60" r="7.4" fill="#dc6262" stroke="none" stroke-width="0"/>
<line x1="680.30" y1="576.00" x2="680.30" y2="588.80" stroke="#c85565" stroke-width="1.7"/>
<line x1="677.30" y1="576.00" x2="683.30" y2="576.00" stroke="#c85565" stroke-width="1.7"/>
<line x1="680.30" y1="588.80" x2="680.30" y2="601.70" stroke="#c85565" stroke-width="1.7"/>
<line x1="677.30" y1="601.70" x2="683.30" y2="601.70" stroke="#c85565" stroke-width="1.7"/>
<circle cx="680.30" cy="588.80" r="7.4" fill="#dc6262" stroke="none" stroke-width="0"/>
<line x1="730.00" y1="629.00" x2="730.00" y2="677.70" stroke="#c85565" stroke-width="1.7"/>
<line x1="727.00" y1="629.00" x2="733.00" y2="629.00" stroke="#c85565" stroke-width="1.7"/>
<line x1="730.00" y1="677.70" x2="730.00" y2="729.00" stroke="#c85565" stroke-width="1.7"/>
<line x1="727.00" y1="729.00" x2="733.00" y2="729.00" stroke="#c85565" stroke-width="1.7"/>
<circle cx="730.00" cy="677.70" r="7.4" fill="#dc6262" stroke="none" stroke-width="0"/>
<line x1="779.60" y1="570.70" x2="779.60" y2="623.10" stroke="#c85565" stroke-width="1.7"/>
<line x1="776.60" y1="570.70" x2="782.60" y2="570.70" stroke="#c85565" stroke-width="1.7"/>
<line x1="779.60" y1="623.10" x2="779.60" y2="675.20" stroke="#c85565" stroke-width="1.7"/>
<line x1="776.60" y1="675.20" x2="782.60" y2="675.20" stroke="#c85565" stroke-width="1.7"/>
<circle cx="779.60" cy="623.10" r="7.4" fill="#dc6262" stroke="none" stroke-width="0"/>
<line x1="480.60" y1="618.60" x2="480.60" y2="649.10" stroke="#0d0d0d" stroke-width="1.7"/>
<line x1="477.60" y1="618.60" x2="483.60" y2="618.60" stroke="#0d0d0d" stroke-width="1.7"/>
<line x1="480.60" y1="649.10" x2="480.60" y2="678.60" stroke="#0d0d0d" stroke-width="1.7"/>
<line x1="477.60" y1="678.60" x2="483.60" y2="678.60" stroke="#0d0d0d" stroke-width="1.7"/>
<circle cx="480.60" cy="649.10" r="7.4" fill="#0d0d0d" stroke="none" stroke-width="0"/>
<line x1="530.70" y1="660.30" x2="530.70" y2="670.70" stroke="#0d0d0d" stroke-width="1.7"/>
<line x1="527.70" y1="660.30" x2="533.70" y2="660.30" stroke="#0d0d0d" stroke-width="1.7"/>
<line x1="530.70" y1="670.70" x2="530.70" y2="681.10" stroke="#0d0d0d" stroke-width="1.7"/>
<line x1="527.70" y1="681.10" x2="533.70" y2="681.10" stroke="#0d0d0d" stroke-width="1.7"/>
<circle cx="530.70" cy="670.70" r="7.4" fill="#0d0d0d" stroke="none" stroke-width="0"/>
<line x1="581.10" y1="644.70" x2="581.10" y2="696.30" stroke="#0d0d0d" stroke-width="1.7"/>
<line x1="578.10" y1="644.70" x2="584.10" y2="644.70" stroke="#0d0d0d" stroke-width="1.7"/>
<line x1="581.10" y1="696.30" x2="581.10" y2="747.60" stroke="#0d0d0d" stroke-width="1.7"/>
<line x1="578.10" y1="747.60" x2="584.10" y2="747.60" stroke="#0d0d0d" stroke-width="1.7"/>
<circle cx="581.10" cy="696.30" r="7.4" fill="#0d0d0d" stroke="none" stroke-width="0"/>
<line x1="630.70" y1="601.70" x2="630.70" y2="641.40" stroke="#0d0d0d" stroke-width="1.7"/>
<line x1="627.70" y1="601.70" x2="633.70" y2="601.70" stroke="#0d0d0d" stroke-width="1.7"/>
<line x1="630.70" y1="641.40" x2="630.70" y2="681.10" stroke="#0d0d0d" stroke-width="1.7"/>
<line x1="627.70" y1="681.10" x2="633.70" y2="681.10" stroke="#0d0d0d" stroke-width="1.7"/>
<circle cx="630.70" cy="641.40" r="7.4" fill="#0d0d0d" stroke="none" stroke-width="0"/>
<line x1="680.30" y1="563.30" x2="680.30" y2="621.60" stroke="#0d0d0d" stroke-width="1.7"/>
<line x1="677.30" y1="563.30" x2="683.30" y2="563.30" stroke="#0d0d0d" stroke-width="1.7"/>
<line x1="680.30" y1="621.60" x2="680.30" y2="679.40" stroke="#0d0d0d" stroke-width="1.7"/>
<line x1="677.30" y1="679.40" x2="683.30" y2="679.40" stroke="#0d0d0d" stroke-width="1.7"/>
<circle cx="680.30" cy="621.60" r="7.4" fill="#0d0d0d" stroke="none" stroke-width="0"/>
<circle cx="730.00" cy="677.70" r="7.4" fill="#0d0d0d" stroke="none" stroke-width="0"/>
<line x1="779.60" y1="578.40" x2="779.60" y2="595.00" stroke="#0d0d0d" stroke-width="1.7"/>
<line x1="776.60" y1="578.40" x2="782.60" y2="578.40" stroke="#0d0d0d" stroke-width="1.7"/>
<line x1="779.60" y1="595.00" x2="779.60" y2="611.20" stroke="#0d0d0d" stroke-width="1.7"/>
<line x1="776.60" y1="611.20" x2="782.60" y2="611.20" stroke="#0d0d0d" stroke-width="1.7"/>
<circle cx="779.60" cy="595.00" r="7.4" fill="#0d0d0d" stroke="none" stroke-width="0"/>
<line x1="862.00" y1="455.40" x2="862.00" y2="771.00" stroke="#000" stroke-width="2"/>
<line x1="861.00" y1="770.00" x2="1198.90" y2="770.00" stroke="#000" stroke-width="2"/>
<line x1="857.00" y1="456.10" x2="862.00" y2="456.10" stroke="#000" stroke-width="2"/>
<line x1="857.00" y1="598.30" x2="862.00" y2="598.30" stroke="#000" stroke-width="2"/>
<line x1="857.00" y1="741.00" x2="862.00" y2="741.00" stroke="#000" stroke-width="2"/>
<line x1="885.00" y1="770.00" x2="885.00" y2="775.00" stroke="#000" stroke-width="2"/>
<line x1="981.80" y1="770.00" x2="981.80" y2="775.00" stroke="#000" stroke-width="2"/>
<line x1="1077.80" y1="770.00" x2="1077.80" y2="775.00" stroke="#000" stroke-width="2"/>
<line x1="1174.60" y1="770.00" x2="1174.60" y2="775.00" stroke="#000" stroke-width="2"/>
<text x="811.27" y="466.30" font-size="29.5" fill="#000" stroke="#000">0.2</text>
<text x="811.12" y="608.50" font-size="29.5" fill="#000" stroke="#000">0.1</text>
<text x="810.83" y="751.20" font-size="29.5" fill="#000" stroke="#000">0.0</text>
<text x="858.67" y="812.70" font-size="29.5" fill="#000" stroke="#000">-11</text>
<text x="964.87" y="812.70" font-size="29.5" fill="#000" stroke="#000">-9</text>
<text x="1061.67" y="812.70" font-size="29.5" fill="#000" stroke="#000">-7</text>
<text x="1157.87" y="812.70" font-size="29.5" fill="#000" stroke="#000">-5</text>
<text x="958.34" y="495.80" font-size="29.5" fill="#000" stroke="#000">Manserin</text>
<text x="932.84" y="840.00" font-size="29.5" fill="#000" stroke="#000">Peptide (log[M])</text>
<line x1="877.30" y1="589.60" x2="877.30" y2="609.20" stroke="#c85565" stroke-width="1.7"/>
<line x1="874.30" y1="589.60" x2="880.30" y2="589.60" stroke="#c85565" stroke-width="1.7"/>
<line x1="877.30" y1="609.20" x2="877.30" y2="628.60" stroke="#c85565" stroke-width="1.7"/>
<line x1="874.30" y1="628.60" x2="880.30" y2="628.60" stroke="#c85565" stroke-width="1.7"/>
<circle cx="877.30" cy="609.20" r="7.4" fill="#dc6262" stroke="none" stroke-width="0"/>
<line x1="925.20" y1="512.00" x2="925.20" y2="572.00" stroke="#c85565" stroke-width="1.7"/>
<line x1="922.20" y1="512.00" x2="928.20" y2="512.00" stroke="#c85565" stroke-width="1.7"/>
<line x1="925.20" y1="572.00" x2="925.20" y2="631.80" stroke="#c85565" stroke-width="1.7"/>
<line x1="922.20" y1="631.80" x2="928.20" y2="631.80" stroke="#c85565" stroke-width="1.7"/>
<circle cx="925.20" cy="572.00" r="7.4" fill="#dc6262" stroke="none" stroke-width="0"/>
<line x1="973.60" y1="642.20" x2="973.60" y2="667.80" stroke="#c85565" stroke-width="1.7"/>
<line x1="970.60" y1="642.20" x2="976.60" y2="642.20" stroke="#c85565" stroke-width="1.7"/>
<line x1="973.60" y1="667.80" x2="973.60" y2="693.10" stroke="#c85565" stroke-width="1.7"/>
<line x1="970.60" y1="693.10" x2="976.60" y2="693.10" stroke="#c85565" stroke-width="1.7"/>
<circle cx="973.60" cy="667.80" r="7.4" fill="#dc6262" stroke="none" stroke-width="0"/>
<line x1="1022.00" y1="555.90" x2="1022.00" y2="608.20" stroke="#c85565" stroke-width="1.7"/>
<line x1="1019.00" y1="555.90" x2="1025.00" y2="555.90" stroke="#c85565" stroke-width="1.7"/>
<line x1="1022.00" y1="608.20" x2="1022.00" y2="660.30" stroke="#c85565" stroke-width="1.7"/>
<line x1="1019.00" y1="660.30" x2="1025.00" y2="660.30" stroke="#c85565" stroke-width="1.7"/>
<circle cx="1022.00" cy="608.20" r="7.4" fill="#dc6262" stroke="none" stroke-width="0"/>
<line x1="1069.90" y1="647.90" x2="1069.90" y2="669.50" stroke="#c85565" stroke-width="1.7"/>
<line x1="1066.90" y1="647.90" x2="1072.90" y2="647.90" stroke="#c85565" stroke-width="1.7"/>
<line x1="1069.90" y1="669.50" x2="1069.90" y2="690.10" stroke="#c85565" stroke-width="1.7"/>
<line x1="1066.90" y1="690.10" x2="1072.90" y2="690.10" stroke="#c85565" stroke-width="1.7"/>
<circle cx="1069.90" cy="669.50" r="7.4" fill="#dc6262" stroke="none" stroke-width="0"/>
<line x1="1118.00" y1="670.00" x2="1118.00" y2="693.10" stroke="#c85565" stroke-width="1.7"/>
<line x1="1115.00" y1="670.00" x2="1121.00" y2="670.00" stroke="#c85565" stroke-width="1.7"/>
<line x1="1118.00" y1="693.10" x2="1118.00" y2="715.90" stroke="#c85565" stroke-width="1.7"/>
<line x1="1115.00" y1="715.90" x2="1121.00" y2="715.90" stroke="#c85565" stroke-width="1.7"/>
<circle cx="1118.00" cy="693.10" r="7.4" fill="#dc6262" stroke="none" stroke-width="0"/>
<line x1="1166.70" y1="611.70" x2="1166.70" y2="635.30" stroke="#c85565" stroke-width="1.7"/>
<line x1="1163.70" y1="611.70" x2="1169.70" y2="611.70" stroke="#c85565" stroke-width="1.7"/>
<line x1="1166.70" y1="635.30" x2="1166.70" y2="657.90" stroke="#c85565" stroke-width="1.7"/>
<line x1="1163.70" y1="657.90" x2="1169.70" y2="657.90" stroke="#c85565" stroke-width="1.7"/>
<circle cx="1166.70" cy="635.30" r="7.4" fill="#dc6262" stroke="none" stroke-width="0"/>
<line x1="877.30" y1="719.20" x2="877.30" y2="724.90" stroke="#0d0d0d" stroke-width="1.7"/>
<line x1="874.30" y1="719.20" x2="880.30" y2="719.20" stroke="#0d0d0d" stroke-width="1.7"/>
<line x1="877.30" y1="724.90" x2="877.30" y2="732.30" stroke="#0d0d0d" stroke-width="1.7"/>
<line x1="874.30" y1="732.30" x2="880.30" y2="732.30" stroke="#0d0d0d" stroke-width="1.7"/>
<circle cx="877.30" cy="724.90" r="7.4" fill="#0d0d0d" stroke="none" stroke-width="0"/>
<line x1="925.20" y1="698.80" x2="925.20" y2="714.20" stroke="#0d0d0d" stroke-width="1.7"/>
<line x1="922.20" y1="698.80" x2="928.20" y2="698.80" stroke="#0d0d0d" stroke-width="1.7"/>
<line x1="925.20" y1="714.20" x2="925.20" y2="729.10" stroke="#0d0d0d" stroke-width="1.7"/>
<line x1="922.20" y1="729.10" x2="928.20" y2="729.10" stroke="#0d0d0d" stroke-width="1.7"/>
<circle cx="925.20" cy="714.20" r="7.4" fill="#0d0d0d" stroke="none" stroke-width="0"/>
<line x1="973.60" y1="726.60" x2="973.60" y2="735.30" stroke="#0d0d0d" stroke-width="1.7"/>
<line x1="970.60" y1="726.60" x2="976.60" y2="726.60" stroke="#0d0d0d" stroke-width="1.7"/>
<line x1="973.60" y1="735.30" x2="973.60" y2="744.00" stroke="#0d0d0d" stroke-width="1.7"/>
<line x1="970.60" y1="744.00" x2="976.60" y2="744.00" stroke="#0d0d0d" stroke-width="1.7"/>
<circle cx="973.60" cy="735.30" r="7.4" fill="#0d0d0d" stroke="none" stroke-width="0"/>
<circle cx="1022.00" cy="739.00" r="7.4" fill="#0d0d0d" stroke="none" stroke-width="0"/>
<circle cx="1069.90" cy="742.00" r="7.4" fill="#0d0d0d" stroke="none" stroke-width="0"/>
<circle cx="1118.00" cy="740.20" r="7.4" fill="#0d0d0d" stroke="none" stroke-width="0"/>
<circle cx="1166.70" cy="745.70" r="7.4" fill="#0d0d0d" stroke="none" stroke-width="0"/>
<line x1="1245.20" y1="453.60" x2="1245.20" y2="769.00" stroke="#000" stroke-width="2"/>
<line x1="1244.20" y1="768.00" x2="1586.40" y2="768.00" stroke="#000" stroke-width="2"/>
<line x1="1240.20" y1="454.10" x2="1245.20" y2="454.10" stroke="#000" stroke-width="2"/>
<line x1="1240.20" y1="603.80" x2="1245.20" y2="603.80" stroke="#000" stroke-width="2"/>
<line x1="1240.20" y1="753.20" x2="1245.20" y2="753.20" stroke="#000" stroke-width="2"/>
<line x1="1269.30" y1="768.00" x2="1269.30" y2="773.00" stroke="#000" stroke-width="2"/>
<line x1="1366.80" y1="768.00" x2="1366.80" y2="773.00" stroke="#000" stroke-width="2"/>
<line x1="1464.00" y1="768.00" x2="1464.00" y2="773.00" stroke="#000" stroke-width="2"/>
<line x1="1561.60" y1="768.00" x2="1561.60" y2="773.00" stroke="#000" stroke-width="2"/>
<text x="1191.38" y="464.30" font-size="29.5" fill="#000" stroke="#000">0.4</text>
<text x="1191.97" y="614.00" font-size="29.5" fill="#000" stroke="#000">0.2</text>
<text x="1191.53" y="763.40" font-size="29.5" fill="#000" stroke="#000">0.0</text>
<text x="1241.87" y="810.20" font-size="29.5" fill="#000" stroke="#000">-11</text>
<text x="1349.27" y="810.20" font-size="29.5" fill="#000" stroke="#000">-9</text>
<text x="1446.57" y="810.20" font-size="29.5" fill="#000" stroke="#000">-7</text>
<text x="1544.57" y="810.20" font-size="29.5" fill="#000" stroke="#000">-5</text>
<text x="1310.43" y="489.60" font-size="29.5" fill="#000" stroke="#000">CHGB (585-594)</text>
<text x="1314.04" y="840.00" font-size="29.5" fill="#000" stroke="#000">Peptide (log[M])</text>
<line x1="1269.30" y1="509.00" x2="1269.30" y2="523.10" stroke="#c85565" stroke-width="1.7"/>
<line x1="1266.30" y1="509.00" x2="1272.30" y2="509.00" stroke="#c85565" stroke-width="1.7"/>
<line x1="1269.30" y1="523.10" x2="1269.30" y2="536.80" stroke="#c85565" stroke-width="1.7"/>
<line x1="1266.30" y1="536.80" x2="1272.30" y2="536.80" stroke="#c85565" stroke-width="1.7"/>
<circle cx="1269.30" cy="523.10" r="7.4" fill="#dc6262" stroke="none" stroke-width="0"/>
<line x1="1318.10" y1="670.00" x2="1318.10" y2="684.40" stroke="#c85565" stroke-width="1.7"/>
<line x1="1315.10" y1="670.00" x2="1321.10" y2="670.00" stroke="#c85565" stroke-width="1.7"/>
<line x1="1318.10" y1="684.40" x2="1318.10" y2="703.00" stroke="#c85565" stroke-width="1.7"/>
<line x1="1315.10" y1="703.00" x2="1321.10" y2="703.00" stroke="#c85565" stroke-width="1.7"/>
<circle cx="1318.10" cy="684.40" r="7.4" fill="#dc6262" stroke="none" stroke-width="0"/>
<line x1="1366.80" y1="665.30" x2="1366.80" y2="701.00" stroke="#c85565" stroke-width="1.7"/>
<line x1="1363.80" y1="665.30" x2="1369.80" y2="665.30" stroke="#c85565" stroke-width="1.7"/>
<line x1="1366.80" y1="701.00" x2="1366.80" y2="737.80" stroke="#c85565" stroke-width="1.7"/>
<line x1="1363.80" y1="737.80" x2="1369.80" y2="737.80" stroke="#c85565" stroke-width="1.7"/>
<circle cx="1366.80" cy="701.00" r="7.4" fill="#dc6262" stroke="none" stroke-width="0"/>
<line x1="1415.70" y1="505.80" x2="1415.70" y2="580.70" stroke="#c85565" stroke-width="1.7"/>
<line x1="1412.70" y1="505.80" x2="1418.70" y2="505.80" stroke="#c85565" stroke-width="1.7"/>
<line x1="1415.70" y1="580.70" x2="1415.70" y2="655.40" stroke="#c85565" stroke-width="1.7"/>
<line x1="1412.70" y1="655.40" x2="1418.70" y2="655.40" stroke="#c85565" stroke-width="1.7"/>
<circle cx="1415.70" cy="580.70" r="7.4" fill="#dc6262" stroke="none" stroke-width="0"/>
<line x1="1464.00" y1="689.40" x2="1464.00" y2="715.90" stroke="#c85565" stroke-width="1.7"/>
<line x1="1461.00" y1="689.40" x2="1467.00" y2="689.40" stroke="#c85565" stroke-width="1.7"/>
<line x1="1464.00" y1="715.90" x2="1464.00" y2="745.00" stroke="#c85565" stroke-width="1.7"/>
<line x1="1461.00" y1="745.00" x2="1467.00" y2="745.00" stroke="#c85565" stroke-width="1.7"/>
<circle cx="1464.00" cy="715.90" r="7.4" fill="#dc6262" stroke="none" stroke-width="0"/>
<line x1="1513.20" y1="729.80" x2="1513.20" y2="741.50" stroke="#c85565" stroke-width="1.7"/>
<line x1="1510.20" y1="729.80" x2="1516.20" y2="729.80" stroke="#c85565" stroke-width="1.7"/>
<line x1="1513.20" y1="741.50" x2="1513.20" y2="752.00" stroke="#c85565" stroke-width="1.7"/>
<line x1="1510.20" y1="752.00" x2="1516.20" y2="752.00" stroke="#c85565" stroke-width="1.7"/>
<circle cx="1513.20" cy="741.50" r="7.4" fill="#dc6262" stroke="none" stroke-width="0"/>
<line x1="1561.60" y1="667.50" x2="1561.60" y2="677.70" stroke="#c85565" stroke-width="1.7"/>
<line x1="1558.60" y1="667.50" x2="1564.60" y2="667.50" stroke="#c85565" stroke-width="1.7"/>
<line x1="1561.60" y1="677.70" x2="1561.60" y2="686.90" stroke="#c85565" stroke-width="1.7"/>
<line x1="1558.60" y1="686.90" x2="1564.60" y2="686.90" stroke="#c85565" stroke-width="1.7"/>
<circle cx="1561.60" cy="677.70" r="7.4" fill="#dc6262" stroke="none" stroke-width="0"/>
<line x1="1269.30" y1="706.00" x2="1269.30" y2="724.10" stroke="#0d0d0d" stroke-width="1.7"/>
<line x1="1266.30" y1="706.00" x2="1272.30" y2="706.00" stroke="#0d0d0d" stroke-width="1.7"/>
<line x1="1269.30" y1="724.10" x2="1269.30" y2="742.20" stroke="#0d0d0d" stroke-width="1.7"/>
<line x1="1266.30" y1="742.20" x2="1272.30" y2="742.20" stroke="#0d0d0d" stroke-width="1.7"/>
<circle cx="1269.30" cy="724.10" r="7.4" fill="#0d0d0d" stroke="none" stroke-width="0"/>
<line x1="1318.10" y1="669.50" x2="1318.10" y2="685.70" stroke="#0d0d0d" stroke-width="1.7"/>
<line x1="1315.10" y1="669.50" x2="1321.10" y2="669.50" stroke="#0d0d0d" stroke-width="1.7"/>
<line x1="1318.10" y1="685.70" x2="1318.10" y2="703.00" stroke="#0d0d0d" stroke-width="1.7"/>
<line x1="1315.10" y1="703.00" x2="1321.10" y2="703.00" stroke="#0d0d0d" stroke-width="1.7"/>
<circle cx="1318.10" cy="685.70" r="7.4" fill="#0d0d0d" stroke="none" stroke-width="0"/>
<line x1="1366.80" y1="701.00" x2="1366.80" y2="714.70" stroke="#0d0d0d" stroke-width="1.7"/>
<line x1="1363.80" y1="701.00" x2="1369.80" y2="701.00" stroke="#0d0d0d" stroke-width="1.7"/>
<line x1="1366.80" y1="714.70" x2="1366.80" y2="728.30" stroke="#0d0d0d" stroke-width="1.7"/>
<line x1="1363.80" y1="728.30" x2="1369.80" y2="728.30" stroke="#0d0d0d" stroke-width="1.7"/>
<circle cx="1366.80" cy="714.70" r="7.4" fill="#0d0d0d" stroke="none" stroke-width="0"/>
<circle cx="1415.70" cy="755.90" r="7.4" fill="#0d0d0d" stroke="none" stroke-width="0"/>
<circle cx="1464.00" cy="747.70" r="7.4" fill="#0d0d0d" stroke="none" stroke-width="0"/>
<line x1="1513.20" y1="744.70" x2="1513.20" y2="753.20" stroke="#0d0d0d" stroke-width="1.7"/>
<line x1="1510.20" y1="744.70" x2="1516.20" y2="744.70" stroke="#0d0d0d" stroke-width="1.7"/>
<line x1="1513.20" y1="753.20" x2="1513.20" y2="762.60" stroke="#0d0d0d" stroke-width="1.7"/>
<line x1="1510.20" y1="762.60" x2="1516.20" y2="762.60" stroke="#0d0d0d" stroke-width="1.7"/>
<circle cx="1513.20" cy="753.20" r="7.4" fill="#0d0d0d" stroke="none" stroke-width="0"/>
<line x1="1561.60" y1="726.60" x2="1561.60" y2="740.20" stroke="#0d0d0d" stroke-width="1.7"/>
<line x1="1558.60" y1="726.60" x2="1564.60" y2="726.60" stroke="#0d0d0d" stroke-width="1.7"/>
<line x1="1561.60" y1="740.20" x2="1561.60" y2="753.90" stroke="#0d0d0d" stroke-width="1.7"/>
<line x1="1558.60" y1="753.90" x2="1564.60" y2="753.90" stroke="#0d0d0d" stroke-width="1.7"/>
<circle cx="1561.60" cy="740.20" r="7.4" fill="#0d0d0d" stroke="none" stroke-width="0"/>
<text x="1667.14" y="33.90" font-size="29.5" fill="#000" stroke="#000">NPY1R</text>
<text x="1611.09" y="75.10" font-size="29.5" fill="#000" stroke="#000" textLength="210.36" lengthAdjust="spacingAndGlyphs">(L174-DiZASeC)</text>
<text x="1615.48" y="148.50" font-size="29.5" fill="#000" stroke="#000" textLength="199.41" lengthAdjust="spacingAndGlyphs">NPY incubation</text>
<text x="1692.57" y="228.20" font-size="29.5" fill="#000" stroke="#000" textLength="88.38" lengthAdjust="spacingAndGlyphs">+/– UV</text>
<text x="1634.56" y="313.80" font-size="29.5" fill="#000" stroke="#000" textLength="171.01" lengthAdjust="spacingAndGlyphs">HA pull down</text>
<text x="1630.8" y="390.5" font-size="29.5" fill="#000" stroke="#000" textLength="188" lengthAdjust="spacingAndGlyphs">H<tspan font-size="16">2</tspan>O<tspan font-size="16">2</tspan> cleavage</text>
<line x1="1729.90" y1="82.30" x2="1729.90" y2="119.20" stroke="#231815" stroke-width="4.2"/>
<path d="M1711.2,96.8 L1729.9,121.2 L1748.6,96.8" fill="none" stroke="#231815" stroke-width="4.2" stroke-linejoin="miter"/>
<line x1="1729.90" y1="155.00" x2="1729.90" y2="196.50" stroke="#231815" stroke-width="4.2"/>
<path d="M1711.8,171.2 L1729.9,198.5 L1748.0,171.2" fill="none" stroke="#231815" stroke-width="4.2" stroke-linejoin="miter"/>
<line x1="1732.40" y1="234.40" x2="1732.40" y2="272.10" stroke="#231815" stroke-width="4.2"/>
<path d="M1713.8,248.0 L1732.4,274.1 L1751.0,248.0" fill="none" stroke="#231815" stroke-width="4.2" stroke-linejoin="miter"/>
<line x1="1732.40" y1="322.50" x2="1732.40" y2="359.00" stroke="#231815" stroke-width="4.2"/>
<path d="M1714.1,337.4 L1732.4,361.0 L1750.7,337.4" fill="none" stroke="#231815" stroke-width="4.2" stroke-linejoin="miter"/>
<text x="1913.79" y="32.20" font-size="29.5" fill="#000" stroke="#000">UV</text>
<line x1="1860.20" y1="43.40" x2="2005.30" y2="43.40" stroke="#111" stroke-width="2"/>
<line x1="1880.00" y1="58.50" x2="1900.00" y2="58.50" stroke="#111" stroke-width="2"/>
<text x="1956.27" y="73.18" font-size="29.5" fill="#000" stroke="#000">+</text>
<defs>
<filter id="bl1" x="-20%" y="-20%" width="140%" height="140%"><feGaussianBlur stdDeviation="1.2"/></filter>
<filter id="bl2" x="-30%" y="-30%" width="160%" height="160%"><feGaussianBlur stdDeviation="3"/></filter>
<linearGradient id="gb1" x1="0" y1="0" x2="1" y2="0"><stop offset="0" stop-color="#e6e6e6"/><stop offset="0.5" stop-color="#efefef"/><stop offset="1" stop-color="#e8e8e8"/></linearGradient>
</defs>
<rect x="1856.50" y="76.90" width="157.00" height="86.30" fill="#f4f4f4" stroke="#111" stroke-width="2"/>
<defs><filter id="bl4" x="-50%" y="-50%" width="200%" height="200%"><feGaussianBlur stdDeviation="4"/></filter><clipPath id="cb1"><rect x="1859" y="79.5" width="152" height="81"/></clipPath></defs>
<g clip-path="url(#cb1)"><rect x="1859" y="79.5" width="152" height="81" fill="#d9d9d9"/><g filter="url(#bl4)"><ellipse cx="1880" cy="86" rx="16" ry="8" fill="#b4b4b4"/><ellipse cx="1898" cy="156" rx="32" ry="9" fill="#f2f2f2"/><ellipse cx="1995" cy="152" rx="14" ry="8" fill="#e6e6e6"/></g></g>
<circle cx="1895.20" cy="122.60" r="11.5" fill="none" stroke="#cfcfcf" stroke-width="1.2" filter="url(#bl1)"/>
<circle cx="1987.40" cy="123.40" r="14.4" fill="#070404" stroke="none" stroke-width="0" filter="url(#bl0)"/>
<defs><filter id="bl0" x="-20%" y="-20%" width="140%" height="140%"><feGaussianBlur stdDeviation="0.5"/></filter></defs>
<rect x="1856.50" y="232.70" width="156.20" height="91.00" fill="#dedede" stroke="#111" stroke-width="2"/>
<defs><linearGradient id="smear" x1="0" y1="0" x2="0" y2="1"><stop offset="0" stop-color="#8a8a8a"/><stop offset="0.45" stop-color="#c0c0c0"/><stop offset="1" stop-color="#d4d4d4"/></linearGradient></defs>
<g filter="url(#bl2)"><rect x="1879" y="288" width="42" height="33" fill="url(#smear)"/><rect x="1946" y="288" width="47" height="33" fill="url(#smear)"/></g>
<g filter="url(#bl1)"><path d="M1876,270 Q1876,267 1882,267 L1917,267 Q1923,267 1923,271 L1923,290 Q1921,294 1916,292 Q1905,286 1888,289 Q1884,297 1879,296 L1876,293 Z" fill="#070707"/><path d="M1943,270 Q1943,266 1950,266 L1989,266 Q1994,266 1994,271 L1994,287 Q1985,290 1972,288 L1956,289 Q1950,295 1946,294 L1943,291 Z" fill="#070707"/></g>
<text transform="translate(1847.80,168.70) rotate(-90)" x="-1.16" y="0" font-size="29.5" fill="#000" stroke="#000" textLength="86.21" lengthAdjust="spacingAndGlyphs">α-NPY</text>
<text transform="translate(1847.80,318.80) rotate(-90)" x="-1.16" y="0" font-size="29.5" fill="#000" stroke="#000" textLength="66.98" lengthAdjust="spacingAndGlyphs">α-HA</text>
<text x="1856.37" y="202.20" font-size="29.5" fill="#000" stroke="#000">Supernatant</text>
<text x="1901.24" y="356.00" font-size="29.5" fill="#000" stroke="#000">Beads</text>
<line x1="2013.50" y1="264.20" x2="2024.00" y2="264.20" stroke="#111" stroke-width="2"/>
<text x="2024.93" y="277.80" font-size="29.5" fill="#000" stroke="#000">75</text>
<text x="1578.48" y="455.50" font-size="48" fill="#000" stroke="#000" font-weight="bold">c</text>
<text x="1726.54" y="452.90" font-size="29.5" fill="#000" stroke="#000" textLength="323.15" lengthAdjust="spacingAndGlyphs">GPR50 (Y280-DiZASeC)</text>
<line x1="1715.60" y1="466.70" x2="1715.60" y2="767.60" stroke="#000" stroke-width="2"/>
<line x1="1711.70" y1="766.60" x2="2035.30" y2="766.60" stroke="#000" stroke-width="2"/>
<line x1="1710.60" y1="468.50" x2="1715.60" y2="468.50" stroke="#000" stroke-width="2"/>
<line x1="1710.60" y1="527.50" x2="1715.60" y2="527.50" stroke="#000" stroke-width="2"/>
<line x1="1710.60" y1="587.50" x2="1715.60" y2="587.50" stroke="#000" stroke-width="2"/>
<line x1="1710.60" y1="647.10" x2="1715.60" y2="647.10" stroke="#000" stroke-width="2"/>
<line x1="1710.60" y1="707.10" x2="1715.60" y2="707.10" stroke="#000" stroke-width="2"/>
<line x1="1710.60" y1="766.60" x2="1715.60" y2="766.60" stroke="#000" stroke-width="2"/>
<line x1="1740.30" y1="766.60" x2="1740.30" y2="771.60" stroke="#000" stroke-width="2"/>
<line x1="1839.00" y1="766.60" x2="1839.00" y2="771.60" stroke="#000" stroke-width="2"/>
<line x1="1936.50" y1="766.60" x2="1936.50" y2="771.60" stroke="#000" stroke-width="2"/>
<line x1="2034.00" y1="766.60" x2="2034.00" y2="771.60" stroke="#000" stroke-width="2"/>
<text x="1661.21" y="478.70" font-size="29.5" fill="#000" stroke="#000">100</text>
<text x="1674.79" y="537.70" font-size="29.5" fill="#000" stroke="#000">80</text>
<text x="1674.79" y="597.70" font-size="29.5" fill="#000" stroke="#000">60</text>
<text x="1674.79" y="657.30" font-size="29.5" fill="#000" stroke="#000">40</text>
<text x="1674.79" y="717.30" font-size="29.5" fill="#000" stroke="#000">20</text>
<text x="1690.16" y="770.80" font-size="29.5" fill="#000" stroke="#000">0</text>
<text x="1718.03" y="803.00" font-size="29.5" fill="#000" stroke="#000">600</text>
<text x="1813.39" y="803.00" font-size="29.5" fill="#000" stroke="#000">1000</text>
<text x="1913.49" y="803.00" font-size="29.5" fill="#000" stroke="#000">1400</text>
<text x="1995.39" y="803.00" font-size="29.5" fill="#000" stroke="#000">1800</text>
<text x="1825.38" y="833.80" font-size="29.5" fill="#000" stroke="#000">m/z (a.u.)</text>
<text transform="translate(1657.50,755.20) rotate(-90)" x="-2.34" y="0" font-size="29.5" fill="#000" stroke="#000" textLength="276.28" lengthAdjust="spacingAndGlyphs">Relative Intensity (%)</text>
<line x1="1735.10" y1="744.00" x2="1735.10" y2="766.60" stroke="#111" stroke-width="1.8"/>
<line x1="1788.40" y1="712.00" x2="1788.40" y2="766.60" stroke="#111" stroke-width="1.8"/>
<line x1="1796.20" y1="752.60" x2="1796.20" y2="766.60" stroke="#111" stroke-width="1.8"/>
<line x1="1808.40" y1="727.60" x2="1808.40" y2="766.60" stroke="#111" stroke-width="1.8"/>
<line x1="1840.90" y1="733.60" x2="1840.90" y2="766.60" stroke="#111" stroke-width="1.8"/>
<line x1="1858.00" y1="675.70" x2="1858.00" y2="766.60" stroke="#111" stroke-width="1.8"/>
<line x1="1869.70" y1="721.10" x2="1869.70" y2="766.60" stroke="#111" stroke-width="1.8"/>
<line x1="1901.40" y1="716.20" x2="1901.40" y2="766.60" stroke="#111" stroke-width="1.8"/>
<line x1="1909.20" y1="718.00" x2="1909.20" y2="766.60" stroke="#111" stroke-width="1.8"/>
<line x1="1910.50" y1="718.00" x2="1910.50" y2="766.60" stroke="#111" stroke-width="1.8"/>
<line x1="1911.80" y1="706.90" x2="1911.80" y2="766.60" stroke="#111" stroke-width="1.8"/>
<line x1="1917.00" y1="740.60" x2="1917.00" y2="766.60" stroke="#111" stroke-width="1.8"/>
<line x1="1919.00" y1="740.60" x2="1919.00" y2="766.60" stroke="#111" stroke-width="1.8"/>
<line x1="1921.00" y1="740.60" x2="1921.00" y2="766.60" stroke="#111" stroke-width="1.8"/>
<line x1="1922.20" y1="721.10" x2="1922.20" y2="766.60" stroke="#111" stroke-width="1.8"/>
<line x1="1924.00" y1="677.20" x2="1924.00" y2="766.60" stroke="#111" stroke-width="1.8"/>
<line x1="1925.60" y1="706.30" x2="1925.60" y2="766.60" stroke="#111" stroke-width="1.8"/>
<line x1="1929.20" y1="611.00" x2="1929.20" y2="766.60" stroke="#111" stroke-width="1.8"/>
<line x1="1931.30" y1="703.70" x2="1931.30" y2="766.60" stroke="#111" stroke-width="1.8"/>
<line x1="1933.40" y1="667.30" x2="1933.40" y2="766.60" stroke="#111" stroke-width="1.8"/>
<line x1="1935.20" y1="530.00" x2="1935.20" y2="766.60" stroke="#111" stroke-width="1.8"/>
<line x1="1937.00" y1="624.50" x2="1937.00" y2="766.60" stroke="#111" stroke-width="1.8"/>
<line x1="1939.10" y1="472.40" x2="1939.10" y2="766.60" stroke="#111" stroke-width="1.8"/>
<line x1="1941.20" y1="485.40" x2="1941.20" y2="766.60" stroke="#111" stroke-width="1.8"/>
<line x1="1943.00" y1="467.70" x2="1943.00" y2="766.60" stroke="#111" stroke-width="1.8"/>
<line x1="1944.30" y1="524.40" x2="1944.30" y2="766.60" stroke="#111" stroke-width="1.8"/>
<line x1="1945.60" y1="481.50" x2="1945.60" y2="766.60" stroke="#111" stroke-width="1.8"/>
<line x1="1946.90" y1="506.20" x2="1946.90" y2="766.60" stroke="#111" stroke-width="1.8"/>
<line x1="1948.20" y1="618.00" x2="1948.20" y2="766.60" stroke="#111" stroke-width="1.8"/>
<line x1="1959.10" y1="648.60" x2="1959.10" y2="766.60" stroke="#111" stroke-width="1.8"/>
<line x1="1985.10" y1="714.70" x2="1985.10" y2="766.60" stroke="#111" stroke-width="1.8"/>
<line x1="2004.10" y1="624.50" x2="2004.10" y2="766.60" stroke="#111" stroke-width="1.8"/>
<line x1="2011.90" y1="701.10" x2="2011.90" y2="766.60" stroke="#111" stroke-width="1.8"/>
<line x1="2028.00" y1="600.30" x2="2028.00" y2="766.60" stroke="#111" stroke-width="1.8"/>
<line x1="2029.50" y1="622.60" x2="2029.50" y2="766.60" stroke="#111" stroke-width="1.8"/>
<path d="M1932.5,766 L1932.5,700 L1934,640 L1935.5,560 L1937.5,540 L1939,480 L1941,490 L1943,470 L1944.5,530 L1946,485 L1947.5,520 L1948.5,640 L1948.5,766 Z" fill="#111"/>
<rect x="1727.30" y="500.50" width="13.70" height="16.10" fill="none" stroke="#b22a2a" stroke-width="1.8" stroke-dasharray="5,2,1.5,2"/>
<rect x="1891.00" y="709.00" width="17.40" height="32.40" fill="none" stroke="#b22a2a" stroke-width="1.8" stroke-dasharray="5,2,1.5,2"/>
<rect x="1928.20" y="527.00" width="10.40" height="23.40" fill="none" stroke="#b22a2a" stroke-width="1.8" stroke-dasharray="5,2,1.5,2"/>
<rect x="2014.50" y="597.20" width="26.00" height="35.10" fill="none" stroke="#b22a2a" stroke-width="1.8" stroke-dasharray="5,2,1.5,2"/>
<text x="1746.67" y="514.50" font-size="29.5" fill="#000" stroke="#000">Se-related</text>
<text x="1753.08" y="548.30" font-size="29.5" fill="#000" stroke="#000">peak pairs</text>
<text x="6.88" y="891.60" font-size="48" fill="#000" stroke="#000" font-weight="bold">d</text>
<text x="138.12" y="967.70" font-size="29.5" fill="#000" stroke="#000">GPR50</text>
<line x1="122.30" y1="1028.00" x2="122.30" y2="1049.10" stroke="#c9d3d3" stroke-width="1.0"/>
<line x1="122.30" y1="1050.70" x2="122.30" y2="1071.80" stroke="#c9d3d3" stroke-width="1.0"/>
<line x1="127.50" y1="1028.00" x2="127.50" y2="1049.10" stroke="#c9d3d3" stroke-width="1.0"/>
<line x1="127.50" y1="1050.70" x2="127.50" y2="1071.80" stroke="#c9d3d3" stroke-width="1.0"/>
<line x1="130.20" y1="1028.00" x2="130.20" y2="1049.10" stroke="#c9d3d3" stroke-width="1.0"/>
<line x1="130.20" y1="1050.70" x2="130.20" y2="1071.80" stroke="#c9d3d3" stroke-width="1.0"/>
<line x1="135.40" y1="1028.00" x2="135.40" y2="1049.10" stroke="#c9d3d3" stroke-width="1.0"/>
<line x1="135.40" y1="1050.70" x2="135.40" y2="1071.80" stroke="#c9d3d3" stroke-width="1.0"/>
<line x1="138.20" y1="1028.00" x2="138.20" y2="1049.10" stroke="#c9d3d3" stroke-width="1.0"/>
<line x1="138.20" y1="1050.70" x2="138.20" y2="1071.80" stroke="#c9d3d3" stroke-width="1.0"/>
<line x1="143.40" y1="1028.00" x2="143.40" y2="1049.10" stroke="#c9d3d3" stroke-width="1.0"/>
<line x1="143.40" y1="1050.70" x2="143.40" y2="1071.80" stroke="#c9d3d3" stroke-width="1.0"/>
<line x1="146.10" y1="1028.00" x2="146.10" y2="1049.10" stroke="#c9d3d3" stroke-width="1.0"/>
<line x1="146.10" y1="1050.70" x2="146.10" y2="1071.80" stroke="#c9d3d3" stroke-width="1.0"/>
<line x1="151.30" y1="1028.00" x2="151.30" y2="1049.10" stroke="#c9d3d3" stroke-width="1.0"/>
<line x1="151.30" y1="1050.70" x2="151.30" y2="1071.80" stroke="#c9d3d3" stroke-width="1.0"/>
<circle cx="124.90" cy="1026.00" r="3.2" fill="#6e9c9c" stroke="none" stroke-width="0"/>
<circle cx="124.90" cy="1073.80" r="3.2" fill="#6e9c9c" stroke="none" stroke-width="0"/>
<circle cx="132.80" cy="1026.00" r="3.2" fill="#6e9c9c" stroke="none" stroke-width="0"/>
<circle cx="132.80" cy="1073.80" r="3.2" fill="#6e9c9c" stroke="none" stroke-width="0"/>
<circle cx="140.80" cy="1026.00" r="3.2" fill="#6e9c9c" stroke="none" stroke-width="0"/>
<circle cx="140.80" cy="1073.80" r="3.2" fill="#6e9c9c" stroke="none" stroke-width="0"/>
<circle cx="148.70" cy="1026.00" r="3.2" fill="#6e9c9c" stroke="none" stroke-width="0"/>
<circle cx="148.70" cy="1073.80" r="3.2" fill="#6e9c9c" stroke="none" stroke-width="0"/>
<line x1="218.00" y1="1028.00" x2="218.00" y2="1049.10" stroke="#c9d3d3" stroke-width="1.0"/>
<line x1="218.00" y1="1050.70" x2="218.00" y2="1071.80" stroke="#c9d3d3" stroke-width="1.0"/>
<line x1="223.20" y1="1028.00" x2="223.20" y2="1049.10" stroke="#c9d3d3" stroke-width="1.0"/>
<line x1="223.20" y1="1050.70" x2="223.20" y2="1071.80" stroke="#c9d3d3" stroke-width="1.0"/>
<line x1="226.00" y1="1028.00" x2="226.00" y2="1049.10" stroke="#c9d3d3" stroke-width="1.0"/>
<line x1="226.00" y1="1050.70" x2="226.00" y2="1071.80" stroke="#c9d3d3" stroke-width="1.0"/>
<line x1="231.20" y1="1028.00" x2="231.20" y2="1049.10" stroke="#c9d3d3" stroke-width="1.0"/>
<line x1="231.20" y1="1050.70" x2="231.20" y2="1071.80" stroke="#c9d3d3" stroke-width="1.0"/>
<line x1="233.90" y1="1028.00" x2="233.90" y2="1049.10" stroke="#c9d3d3" stroke-width="1.0"/>
<line x1="233.90" y1="1050.70" x2="233.90" y2="1071.80" stroke="#c9d3d3" stroke-width="1.0"/>
<line x1="239.10" y1="1028.00" x2="239.10" y2="1049.10" stroke="#c9d3d3" stroke-width="1.0"/>
<line x1="239.10" y1="1050.70" x2="239.10" y2="1071.80" stroke="#c9d3d3" stroke-width="1.0"/>
<line x1="241.90" y1="1028.00" x2="241.90" y2="1049.10" stroke="#c9d3d3" stroke-width="1.0"/>
<line x1="241.90" y1="1050.70" x2="241.90" y2="1071.80" stroke="#c9d3d3" stroke-width="1.0"/>
<line x1="247.10" y1="1028.00" x2="247.10" y2="1049.10" stroke="#c9d3d3" stroke-width="1.0"/>
<line x1="247.10" y1="1050.70" x2="247.10" y2="1071.80" stroke="#c9d3d3" stroke-width="1.0"/>
<circle cx="220.60" cy="1026.00" r="3.2" fill="#6e9c9c" stroke="none" stroke-width="0"/>
<circle cx="220.60" cy="1073.80" r="3.2" fill="#6e9c9c" stroke="none" stroke-width="0"/>
<circle cx="228.60" cy="1026.00" r="3.2" fill="#6e9c9c" stroke="none" stroke-width="0"/>
<circle cx="228.60" cy="1073.80" r="3.2" fill="#6e9c9c" stroke="none" stroke-width="0"/>
<circle cx="236.50" cy="1026.00" r="3.2" fill="#6e9c9c" stroke="none" stroke-width="0"/>
<circle cx="236.50" cy="1073.80" r="3.2" fill="#6e9c9c" stroke="none" stroke-width="0"/>
<circle cx="244.50" cy="1026.00" r="3.2" fill="#6e9c9c" stroke="none" stroke-width="0"/>
<circle cx="244.50" cy="1073.80" r="3.2" fill="#6e9c9c" stroke="none" stroke-width="0"/>
<path d="M166.7,995.8 H178 V1013.4 H193.1 V995.8 H205.4 A17.6,17.6 0 0 1 223,1013.4 V1080.8000000000002 A17.6,17.6 0 0 1 205.4,1098.4 H166.7 A17.6,17.6 0 0 1 149.1,1080.8000000000002 V1013.4 A17.6,17.6 0 0 1 166.7,995.8 Z" fill="#a5d3de" stroke="#111" stroke-width="2.2"/>
<path d="M299.2,980.7 H286 Q274,980.7 274,992.7 V1004.9" fill="none" stroke="#a8687f" stroke-width="4.2"/>
<rect x="267.00" y="1003.90" width="13.90" height="19.10" fill="#a8687f" stroke="none" stroke-width="0"/>
<path d="M299.2,1039.8 H286 Q274,1039.8 274,1051.8 V1064.2" fill="none" stroke="#a8687f" stroke-width="4.2"/>
<rect x="267.00" y="1063.20" width="13.90" height="17.60" fill="#a8687f" stroke="none" stroke-width="0"/>
<polygon points="279.63,1091.85 274.00,1095.10 268.37,1091.85 268.37,1085.35 274.00,1082.10 279.63,1085.35" fill="#8e1e90"/>
<text x="290.54" y="1073.80" font-size="29.5" fill="#7a1a7a" stroke="#7a1a7a">LL-rhodamine</text>
<circle cx="128.70" cy="1183.90" r="9.6" fill="#a8687f" stroke="none" stroke-width="0"/>
<text x="158.54" y="1194.50" font-size="29.5" fill="#000" stroke="#000">L-LEN</text>
<circle cx="128.70" cy="1224.20" r="9.6" fill="#6d6aa3" stroke="none" stroke-width="0"/>
<text x="158.54" y="1234.70" font-size="29.5" fill="#000" stroke="#000">L-LEN-rhodamine</text>
<line x1="93.80" y1="1242.30" x2="93.80" y2="1601.30" stroke="#000" stroke-width="2.2"/>
<line x1="92.80" y1="1600.30" x2="505.40" y2="1600.30" stroke="#000" stroke-width="2.2"/>
<line x1="87.80" y1="1242.30" x2="93.80" y2="1242.30" stroke="#000" stroke-width="2.2"/>
<line x1="87.80" y1="1344.90" x2="93.80" y2="1344.90" stroke="#000" stroke-width="2.2"/>
<line x1="87.80" y1="1446.90" x2="93.80" y2="1446.90" stroke="#000" stroke-width="2.2"/>
<line x1="87.80" y1="1549.50" x2="93.80" y2="1549.50" stroke="#000" stroke-width="2.2"/>
<line x1="123.10" y1="1600.30" x2="123.10" y2="1607.80" stroke="#000" stroke-width="2.2"/>
<line x1="181.90" y1="1600.30" x2="181.90" y2="1607.80" stroke="#000" stroke-width="2.2"/>
<line x1="240.40" y1="1600.30" x2="240.40" y2="1607.80" stroke="#000" stroke-width="2.2"/>
<line x1="298.80" y1="1600.30" x2="298.80" y2="1607.80" stroke="#000" stroke-width="2.2"/>
<line x1="357.50" y1="1600.30" x2="357.50" y2="1607.80" stroke="#000" stroke-width="2.2"/>
<line x1="416.50" y1="1600.30" x2="416.50" y2="1607.80" stroke="#000" stroke-width="2.2"/>
<line x1="475.20" y1="1600.30" x2="475.20" y2="1607.80" stroke="#000" stroke-width="2.2"/>
<text x="47.79" y="1252.50" font-size="29.5" fill="#000" stroke="#000">60</text>
<text x="47.79" y="1355.10" font-size="29.5" fill="#000" stroke="#000">40</text>
<text x="47.79" y="1457.10" font-size="29.5" fill="#000" stroke="#000">20</text>
<text x="64.16" y="1559.70" font-size="29.5" fill="#000" stroke="#000">0</text>
<text x="96.47" y="1638.00" font-size="29.5" fill="#000" stroke="#000">-11</text>
<text x="154.87" y="1638.00" font-size="29.5" fill="#000" stroke="#000">-10</text>
<text x="223.87" y="1638.00" font-size="29.5" fill="#000" stroke="#000">-9</text>
<text x="282.37" y="1638.00" font-size="29.5" fill="#000" stroke="#000">-8</text>
<text x="341.57" y="1638.00" font-size="29.5" fill="#000" stroke="#000">-7</text>
<text x="399.67" y="1638.00" font-size="29.5" fill="#000" stroke="#000">-6</text>
<text x="458.87" y="1638.00" font-size="29.5" fill="#000" stroke="#000">-5</text>
<text x="200.64" y="1677.70" font-size="29.5" fill="#000" stroke="#000">Ligand (log[M])</text>
<text transform="translate(29.50,1569.20) rotate(-90)" x="-2.64" y="0" font-size="29.5" fill="#000" stroke="#000" textLength="275.28" lengthAdjust="spacingAndGlyphs">Inhibiton of cAMP(%)</text>
<circle cx="123.10" cy="1547.80" r="9.5" fill="#a8687f" stroke="none" stroke-width="0"/>
<line x1="181.90" y1="1459.80" x2="181.90" y2="1536.30" stroke="#a8687f" stroke-width="2"/>
<line x1="177.40" y1="1459.80" x2="186.40" y2="1459.80" stroke="#a8687f" stroke-width="2"/>
<line x1="181.90" y1="1536.30" x2="181.90" y2="1578.70" stroke="#a8687f" stroke-width="2"/>
<line x1="177.40" y1="1578.70" x2="186.40" y2="1578.70" stroke="#a8687f" stroke-width="2"/>
<circle cx="181.90" cy="1536.30" r="9.5" fill="#a8687f" stroke="none" stroke-width="0"/>
<circle cx="210.60" cy="1527.00" r="9.5" fill="#a8687f" stroke="none" stroke-width="0"/>
<line x1="240.70" y1="1475.40" x2="240.70" y2="1507.60" stroke="#a8687f" stroke-width="2"/>
<line x1="236.20" y1="1475.40" x2="245.20" y2="1475.40" stroke="#a8687f" stroke-width="2"/>
<line x1="240.70" y1="1507.60" x2="240.70" y2="1548.70" stroke="#a8687f" stroke-width="2"/>
<line x1="236.20" y1="1548.70" x2="245.20" y2="1548.70" stroke="#a8687f" stroke-width="2"/>
<circle cx="240.70" cy="1507.60" r="9.5" fill="#a8687f" stroke="none" stroke-width="0"/>
<line x1="270.80" y1="1485.70" x2="270.80" y2="1511.20" stroke="#a8687f" stroke-width="2"/>
<line x1="266.30" y1="1485.70" x2="275.30" y2="1485.70" stroke="#a8687f" stroke-width="2"/>
<line x1="270.80" y1="1511.20" x2="270.80" y2="1539.00" stroke="#a8687f" stroke-width="2"/>
<line x1="266.30" y1="1539.00" x2="275.30" y2="1539.00" stroke="#a8687f" stroke-width="2"/>
<circle cx="270.80" cy="1511.20" r="9.5" fill="#a8687f" stroke="none" stroke-width="0"/>
<circle cx="299.50" cy="1500.80" r="9.5" fill="#a8687f" stroke="none" stroke-width="0"/>
<circle cx="326.90" cy="1454.80" r="9.5" fill="#a8687f" stroke="none" stroke-width="0"/>
<line x1="357.80" y1="1370.00" x2="357.80" y2="1406.40" stroke="#a8687f" stroke-width="2"/>
<line x1="353.30" y1="1370.00" x2="362.30" y2="1370.00" stroke="#a8687f" stroke-width="2"/>
<line x1="357.80" y1="1406.40" x2="357.80" y2="1440.60" stroke="#a8687f" stroke-width="2"/>
<line x1="353.30" y1="1440.60" x2="362.30" y2="1440.60" stroke="#a8687f" stroke-width="2"/>
<circle cx="357.80" cy="1406.40" r="9.5" fill="#a8687f" stroke="none" stroke-width="0"/>
<circle cx="387.00" cy="1370.90" r="9.5" fill="#a8687f" stroke="none" stroke-width="0"/>
<line x1="416.60" y1="1342.10" x2="416.60" y2="1352.50" stroke="#a8687f" stroke-width="2"/>
<line x1="412.10" y1="1342.10" x2="421.10" y2="1342.10" stroke="#a8687f" stroke-width="2"/>
<line x1="416.60" y1="1352.50" x2="416.60" y2="1380.40" stroke="#a8687f" stroke-width="2"/>
<line x1="412.10" y1="1380.40" x2="421.10" y2="1380.40" stroke="#a8687f" stroke-width="2"/>
<circle cx="416.60" cy="1352.50" r="9.5" fill="#a8687f" stroke="none" stroke-width="0"/>
<line x1="475.90" y1="1319.70" x2="475.90" y2="1336.70" stroke="#a8687f" stroke-width="2"/>
<line x1="471.40" y1="1319.70" x2="480.40" y2="1319.70" stroke="#a8687f" stroke-width="2"/>
<line x1="475.90" y1="1336.70" x2="475.90" y2="1354.50" stroke="#a8687f" stroke-width="2"/>
<line x1="471.40" y1="1354.50" x2="480.40" y2="1354.50" stroke="#a8687f" stroke-width="2"/>
<circle cx="475.90" cy="1336.70" r="9.5" fill="#a8687f" stroke="none" stroke-width="0"/>
<line x1="123.10" y1="1517.20" x2="123.10" y2="1528.10" stroke="#6d6aa3" stroke-width="2"/>
<line x1="118.60" y1="1517.20" x2="127.60" y2="1517.20" stroke="#6d6aa3" stroke-width="2"/>
<line x1="123.10" y1="1528.10" x2="123.10" y2="1538.00" stroke="#6d6aa3" stroke-width="2"/>
<line x1="118.60" y1="1538.00" x2="127.60" y2="1538.00" stroke="#6d6aa3" stroke-width="2"/>
<circle cx="123.10" cy="1528.10" r="9.5" fill="#6d6aa3" stroke="none" stroke-width="0"/>
<line x1="181.90" y1="1498.00" x2="181.90" y2="1518.60" stroke="#6d6aa3" stroke-width="2"/>
<line x1="177.40" y1="1498.00" x2="186.40" y2="1498.00" stroke="#6d6aa3" stroke-width="2"/>
<line x1="181.90" y1="1518.60" x2="181.90" y2="1576.00" stroke="#6d6aa3" stroke-width="2"/>
<line x1="177.40" y1="1576.00" x2="186.40" y2="1576.00" stroke="#6d6aa3" stroke-width="2"/>
<circle cx="181.90" cy="1518.60" r="9.5" fill="#6d6aa3" stroke="none" stroke-width="0"/>
<circle cx="210.60" cy="1525.00" r="9.5" fill="#6d6aa3" stroke="none" stroke-width="0"/>
<line x1="240.70" y1="1512.00" x2="240.70" y2="1522.70" stroke="#6d6aa3" stroke-width="2"/>
<line x1="236.20" y1="1512.00" x2="245.20" y2="1512.00" stroke="#6d6aa3" stroke-width="2"/>
<line x1="240.70" y1="1522.70" x2="240.70" y2="1540.00" stroke="#6d6aa3" stroke-width="2"/>
<line x1="236.20" y1="1540.00" x2="245.20" y2="1540.00" stroke="#6d6aa3" stroke-width="2"/>
<circle cx="240.70" cy="1522.70" r="9.5" fill="#6d6aa3" stroke="none" stroke-width="0"/>
<line x1="299.50" y1="1503.50" x2="299.50" y2="1514.50" stroke="#6d6aa3" stroke-width="2"/>
<line x1="295.00" y1="1503.50" x2="304.00" y2="1503.50" stroke="#6d6aa3" stroke-width="2"/>
<line x1="299.50" y1="1514.50" x2="299.50" y2="1524.00" stroke="#6d6aa3" stroke-width="2"/>
<line x1="295.00" y1="1524.00" x2="304.00" y2="1524.00" stroke="#6d6aa3" stroke-width="2"/>
<circle cx="299.50" cy="1514.50" r="9.5" fill="#6d6aa3" stroke="none" stroke-width="0"/>
<circle cx="357.80" cy="1395.50" r="9.5" fill="#6d6aa3" stroke="none" stroke-width="0"/>
<circle cx="387.00" cy="1368.10" r="9.5" fill="#6d6aa3" stroke="none" stroke-width="0"/>
<circle cx="416.60" cy="1358.60" r="9.5" fill="#6d6aa3" stroke="none" stroke-width="0"/>
<circle cx="475.90" cy="1365.40" r="9.5" fill="#6d6aa3" stroke="none" stroke-width="0"/>
<path d="M123.10,1541.40 L126.06,1541.39 L129.03,1541.38 L131.99,1541.36 L134.96,1541.35 L137.92,1541.34 L140.89,1541.32 L143.85,1541.30 L146.82,1541.28 L149.78,1541.26 L152.75,1541.23 L155.71,1541.20 L158.68,1541.17 L161.64,1541.14 L164.61,1541.10 L167.57,1541.06 L170.54,1541.01 L173.50,1540.95 L176.46,1540.89 L179.43,1540.83 L182.39,1540.75 L185.36,1540.67 L188.32,1540.58 L191.29,1540.48 L194.25,1540.36 L197.22,1540.24 L200.18,1540.10 L203.15,1539.94 L206.11,1539.77 L209.08,1539.58 L212.04,1539.36 L215.01,1539.12 L217.97,1538.86 L220.94,1538.57 L223.90,1538.24 L226.86,1537.88 L229.83,1537.47 L232.79,1537.03 L235.76,1536.53 L238.72,1535.99 L241.69,1535.38 L244.65,1534.71 L247.62,1533.97 L250.58,1533.15 L253.55,1532.24 L256.51,1531.24 L259.48,1530.14 L262.44,1528.93 L265.41,1527.60 L268.37,1526.14 L271.34,1524.54 L274.30,1522.79 L277.26,1520.88 L280.23,1518.80 L283.19,1516.53 L286.16,1514.07 L289.12,1511.41 L292.09,1508.54 L295.05,1505.46 L298.02,1502.15 L300.98,1498.61 L303.95,1494.84 L306.91,1490.85 L309.88,1486.64 L312.84,1482.20 L315.81,1477.57 L318.77,1472.74 L321.74,1467.74 L324.70,1462.59 L327.66,1457.30 L330.63,1451.92 L333.59,1446.47 L336.56,1440.97 L339.52,1435.46 L342.49,1429.97 L345.45,1424.54 L348.42,1419.19 L351.38,1413.95 L354.35,1408.85 L357.31,1403.91 L360.28,1399.15 L363.24,1394.59 L366.21,1390.24 L369.17,1386.10 L372.14,1382.19 L375.10,1378.51 L378.06,1375.06 L381.03,1371.83 L383.99,1368.82 L386.96,1366.03 L389.92,1363.44 L392.89,1361.05 L395.85,1358.86 L398.82,1356.84 L401.78,1354.98 L404.75,1353.29 L407.71,1351.74 L410.68,1350.33 L413.64,1349.04 L416.61,1347.87 L419.57,1346.81 L422.54,1345.85 L425.50,1344.97 L428.46,1344.18 L431.43,1343.47 L434.39,1342.82 L437.36,1342.24 L440.32,1341.71 L443.29,1341.23 L446.25,1340.80 L449.22,1340.42 L452.18,1340.07 L455.15,1339.75 L458.11,1339.47 L461.08,1339.22 L464.04,1338.99 L467.01,1338.78 L469.97,1338.60 L472.94,1338.43 L475.90,1338.28" fill="none" stroke="#a8687f" stroke-width="6" stroke-linecap="round"/>
<path d="M123.10,1527.28 L126.06,1527.28 L129.03,1527.28 L131.99,1527.28 L134.96,1527.28 L137.92,1527.28 L140.89,1527.28 L143.85,1527.28 L146.82,1527.28 L149.78,1527.28 L152.75,1527.28 L155.71,1527.28 L158.68,1527.28 L161.64,1527.28 L164.61,1527.28 L167.57,1527.28 L170.54,1527.28 L173.50,1527.28 L176.46,1527.28 L179.43,1527.28 L182.39,1527.28 L185.36,1527.28 L188.32,1527.28 L191.29,1527.27 L194.25,1527.27 L197.22,1527.27 L200.18,1527.27 L203.15,1527.27 L206.11,1527.26 L209.08,1527.26 L212.04,1527.26 L215.01,1527.25 L217.97,1527.24 L220.94,1527.23 L223.90,1527.22 L226.86,1527.21 L229.83,1527.19 L232.79,1527.17 L235.76,1527.15 L238.72,1527.12 L241.69,1527.08 L244.65,1527.03 L247.62,1526.97 L250.58,1526.89 L253.55,1526.80 L256.51,1526.68 L259.48,1526.54 L262.44,1526.36 L265.41,1526.14 L268.37,1525.87 L271.34,1525.53 L274.30,1525.12 L277.26,1524.60 L280.23,1523.97 L283.19,1523.20 L286.16,1522.24 L289.12,1521.08 L292.09,1519.65 L295.05,1517.92 L298.02,1515.83 L300.98,1513.30 L303.95,1510.29 L306.91,1506.71 L309.88,1502.51 L312.84,1497.63 L315.81,1492.04 L318.77,1485.71 L321.74,1478.69 L324.70,1471.03 L327.66,1462.84 L330.63,1454.27 L333.59,1445.52 L336.56,1436.77 L339.52,1428.22 L342.49,1420.07 L345.45,1412.45 L348.42,1405.47 L351.38,1399.20 L354.35,1393.66 L357.31,1388.83 L360.28,1384.68 L363.24,1381.14 L366.21,1378.17 L369.17,1375.68 L372.14,1373.61 L375.10,1371.90 L378.06,1370.50 L381.03,1369.35 L383.99,1368.41 L386.96,1367.65 L389.92,1367.02 L392.89,1366.52 L395.85,1366.11 L398.82,1365.78 L401.78,1365.51 L404.75,1365.30 L407.71,1365.12 L410.68,1364.98 L413.64,1364.87 L416.61,1364.77 L419.57,1364.70 L422.54,1364.64 L425.50,1364.59 L428.46,1364.55 L431.43,1364.52 L434.39,1364.50 L437.36,1364.47 L440.32,1364.46 L443.29,1364.45 L446.25,1364.43 L449.22,1364.43 L452.18,1364.42 L455.15,1364.41 L458.11,1364.41 L461.08,1364.41 L464.04,1364.40 L467.01,1364.40 L469.97,1364.40 L472.94,1364.40 L475.90,1364.40" fill="none" stroke="#6d6aa3" stroke-width="6" stroke-linecap="round"/>
<text x="161.74" y="1388.60" font-size="29.5" fill="#a8687f" stroke="#a8687f">EC</text>
<text x="203.04" y="1397.40" font-size="19" fill="#a8687f" stroke="#a8687f">50</text>
<text x="115.61" y="1441.40" font-size="29.5" fill="#a8687f" stroke="#a8687f">47.9</text>
<text x="187.81" y="1441.40" font-size="29.5" fill="#a8687f" stroke="#a8687f">±</text>
<text x="210.82" y="1441.40" font-size="29.5" fill="#a8687f" stroke="#a8687f">0.12 nM</text>
<text x="354.64" y="1467.40" font-size="29.5" fill="#6d6aa3" stroke="#6d6aa3">EC</text>
<text x="395.84" y="1477.50" font-size="19" fill="#6d6aa3" stroke="#6d6aa3">50</text>
<text x="314.01" y="1519.90" font-size="29.5" fill="#6d6aa3" stroke="#6d6aa3">43.3</text>
<text x="383.42" y="1519.90" font-size="29.5" fill="#6d6aa3" stroke="#6d6aa3">±</text>
<text x="409.12" y="1519.90" font-size="29.5" fill="#6d6aa3" stroke="#6d6aa3">0.04 nM</text>
<text x="639.78" y="887.90" font-size="48" fill="#000" stroke="#000" font-weight="bold">e</text>
<path d="M768.6,893.5 H751 Q739.6,893.5 739.6,905 V914" fill="none" stroke="#a8687f" stroke-width="4.2"/>
<rect x="733.00" y="913.10" width="13.20" height="18.80" fill="#a8687f" stroke="none" stroke-width="0"/>
<polygon points="743.28,940.20 738.60,942.90 733.92,940.20 733.92,934.80 738.60,932.10 743.28,934.80" fill="#4c9a8c"/>
<path d="M739.6,975.5 V968 Q739.6,956 751,956 H770" fill="none" stroke="#a8687f" stroke-width="4.2"/>
<rect x="733.00" y="974.80" width="13.20" height="19.60" fill="#a8687f" stroke="none" stroke-width="0"/>
<polygon points="778.88,958.70 774.20,961.40 769.52,958.70 769.52,953.30 774.20,950.60 778.88,953.30" fill="#4c9a8c"/>
<text x="807.74" y="927.10" font-size="29.5" fill="#000" stroke="#000">L-LEN-FITC (LL-F)</text>
<text x="807.74" y="986.60" font-size="29.5" fill="#000" stroke="#000">L-LEN-FITC (F-LL)</text>
<circle cx="684.50" cy="1038.40" r="19.5" fill="none" stroke="#111" stroke-width="2"/>
<text x="676.02" y="1048.41" font-size="29" fill="#000" stroke="#000">1</text>
<circle cx="684.50" cy="1098.20" r="19.5" fill="none" stroke="#111" stroke-width="2"/>
<text x="676.45" y="1108.35" font-size="29" fill="#000" stroke="#000">2</text>
<circle cx="686.70" cy="1155.10" r="19.5" fill="none" stroke="#111" stroke-width="2"/>
<text x="678.65" y="1165.11" font-size="29" fill="#000" stroke="#000">3</text>
<circle cx="684.50" cy="1210.30" r="19.5" fill="none" stroke="#111" stroke-width="2"/>
<text x="676.60" y="1220.31" font-size="29" fill="#000" stroke="#000">4</text>
<circle cx="935.50" cy="1038.40" r="19.5" fill="none" stroke="#111" stroke-width="2"/>
<text x="927.45" y="1048.26" font-size="29" fill="#000" stroke="#000">5</text>
<circle cx="935.50" cy="1098.20" r="19.5" fill="none" stroke="#111" stroke-width="2"/>
<text x="927.31" y="1108.21" font-size="29" fill="#000" stroke="#000">6</text>
<circle cx="939.70" cy="1155.10" r="19.5" fill="none" stroke="#111" stroke-width="2"/>
<text x="931.65" y="1165.11" font-size="29" fill="#000" stroke="#000">7</text>
<text x="714.12" y="1050.50" font-size="29.5" fill="#000" stroke="#000">50+buffer</text>
<text x="716.55" y="1109.40" font-size="29.5" fill="#000" stroke="#000">VC+LL-F</text>
<text x="714.12" y="1166.30" font-size="29.5" fill="#000" stroke="#000">50+LL-F</text>
<text x="714.12" y="1222.40" font-size="29.5" fill="#000" stroke="#000">50+LL-F+LL</text>
<text x="994.25" y="1050.50" font-size="29.5" fill="#000" stroke="#000">VC+F-LL</text>
<text x="993.22" y="1109.40" font-size="29.5" fill="#000" stroke="#000">50+F-LL+LL</text>
<text x="993.22" y="1166.30" font-size="29.5" fill="#000" stroke="#000">50+F-LL</text>
<line x1="646.20" y1="1255.20" x2="646.20" y2="1603.50" stroke="#000" stroke-width="2.2"/>
<line x1="645.20" y1="1602.50" x2="911.50" y2="1602.50" stroke="#000" stroke-width="2.2"/>
<line x1="640.20" y1="1298.40" x2="646.20" y2="1298.40" stroke="#000" stroke-width="2.2"/>
<line x1="640.20" y1="1396.30" x2="646.20" y2="1396.30" stroke="#000" stroke-width="2.2"/>
<line x1="640.20" y1="1494.50" x2="646.20" y2="1494.50" stroke="#000" stroke-width="2.2"/>
<line x1="640.20" y1="1592.40" x2="646.20" y2="1592.40" stroke="#000" stroke-width="2.2"/>
<text x="596.09" y="1308.60" font-size="29.5" fill="#000" stroke="#000">30</text>
<text x="596.09" y="1406.50" font-size="29.5" fill="#000" stroke="#000">20</text>
<text x="596.09" y="1504.70" font-size="29.5" fill="#000" stroke="#000">10</text>
<text x="612.46" y="1602.60" font-size="29.5" fill="#000" stroke="#000">0</text>
<rect x="656.30" y="1582.30" width="38.30" height="20.20" fill="#878787" stroke="none" stroke-width="0"/>
<rect x="715.10" y="1519.40" width="38.60" height="83.10" fill="#716fa0" stroke="none" stroke-width="0"/>
<rect x="773.90" y="1349.80" width="38.30" height="252.70" fill="#a56c80" stroke="none" stroke-width="0"/>
<rect x="832.70" y="1463.90" width="38.60" height="138.60" fill="#c3c3c3" stroke="none" stroke-width="0"/>
<line x1="674.90" y1="1602.50" x2="674.90" y2="1609.50" stroke="#000" stroke-width="2.2"/>
<line x1="734.20" y1="1602.50" x2="734.20" y2="1609.50" stroke="#000" stroke-width="2.2"/>
<line x1="792.00" y1="1602.50" x2="792.00" y2="1609.50" stroke="#000" stroke-width="2.2"/>
<line x1="850.50" y1="1602.50" x2="850.50" y2="1609.50" stroke="#000" stroke-width="2.2"/>
<circle cx="674.90" cy="1582.80" r="6.2" fill="none" stroke="#111" stroke-width="2"/>
<circle cx="675.50" cy="1583.50" r="6.2" fill="none" stroke="#111" stroke-width="2"/>
<circle cx="733.10" cy="1516.60" r="6.2" fill="none" stroke="#111" stroke-width="2"/>
<circle cx="733.10" cy="1525.40" r="6.2" fill="none" stroke="#111" stroke-width="2"/>
<circle cx="789.80" cy="1336.10" r="6.2" fill="none" stroke="#111" stroke-width="2"/>
<circle cx="789.20" cy="1351.70" r="6.2" fill="none" stroke="#111" stroke-width="2"/>
<circle cx="792.00" cy="1361.80" r="6.2" fill="none" stroke="#111" stroke-width="2"/>
<circle cx="852.70" cy="1462.50" r="6.2" fill="none" stroke="#111" stroke-width="2"/>
<circle cx="854.90" cy="1462.00" r="6.2" fill="none" stroke="#111" stroke-width="2"/>
<circle cx="854.00" cy="1469.30" r="6.2" fill="none" stroke="#111" stroke-width="2"/>
<circle cx="674.90" cy="1631.50" r="19.7" fill="none" stroke="#111" stroke-width="2"/>
<text x="666.42" y="1641.51" font-size="29" fill="#000" stroke="#000">1</text>
<circle cx="734.20" cy="1631.50" r="19.7" fill="none" stroke="#111" stroke-width="2"/>
<text x="726.15" y="1641.65" font-size="29" fill="#000" stroke="#000">2</text>
<circle cx="789.20" cy="1631.50" r="19.7" fill="none" stroke="#111" stroke-width="2"/>
<text x="781.15" y="1641.51" font-size="29" fill="#000" stroke="#000">3</text>
<circle cx="850.50" cy="1631.50" r="19.7" fill="none" stroke="#111" stroke-width="2"/>
<text x="842.60" y="1641.51" font-size="29" fill="#000" stroke="#000">4</text>
<path d="M675.4,1277 V1264.2 H803.4 V1277" fill="none" stroke="#111" stroke-width="2"/>
<path d="M734.5,1318.9 V1305.2 H800.2 V1318.9" fill="none" stroke="#111" stroke-width="2"/>
<path d="M811.6,1318.9 V1305.2 H880.6 V1318.9" fill="none" stroke="#111" stroke-width="2"/>
<text x="736.03" y="1268.42" font-size="28" fill="#000" stroke="#000" textLength="18.99" lengthAdjust="spacingAndGlyphs">**</text>
<text x="747.83" y="1310.82" font-size="28" fill="#000" stroke="#000" textLength="29.08" lengthAdjust="spacingAndGlyphs">***</text>
<text x="829.02" y="1310.82" font-size="28" fill="#000" stroke="#000" textLength="29.39" lengthAdjust="spacingAndGlyphs">***</text>
<text transform="translate(589.50,1634.80) rotate(-90)" x="-2.33" y="0" font-size="29.5" fill="#000" stroke="#000" textLength="321.49" lengthAdjust="spacingAndGlyphs">Normalized MFI(Binding)</text>
<line x1="946.50" y1="1262.80" x2="946.50" y2="1600.80" stroke="#000" stroke-width="2.2"/>
<line x1="945.50" y1="1599.80" x2="1200.60" y2="1599.80" stroke="#000" stroke-width="2.2"/>
<line x1="940.50" y1="1308.80" x2="946.50" y2="1308.80" stroke="#000" stroke-width="2.2"/>
<line x1="940.50" y1="1399.60" x2="946.50" y2="1399.60" stroke="#000" stroke-width="2.2"/>
<line x1="940.50" y1="1490.40" x2="946.50" y2="1490.40" stroke="#000" stroke-width="2.2"/>
<line x1="940.50" y1="1581.50" x2="946.50" y2="1581.50" stroke="#000" stroke-width="2.2"/>
<text x="900.43" y="1319.00" font-size="29.5" fill="#000" stroke="#000">15</text>
<text x="900.29" y="1409.80" font-size="29.5" fill="#000" stroke="#000">10</text>
<text x="916.81" y="1500.60" font-size="29.5" fill="#000" stroke="#000">5</text>
<text x="916.66" y="1591.70" font-size="29.5" fill="#000" stroke="#000">0</text>
<rect x="956.00" y="1562.30" width="37.50" height="37.50" fill="#838383" stroke="none" stroke-width="0"/>
<rect x="1012.10" y="1464.70" width="37.50" height="135.10" fill="#adadc8" stroke="none" stroke-width="0"/>
<rect x="1068.70" y="1390.00" width="37.80" height="209.80" fill="#c39fb0" stroke="none" stroke-width="0"/>
<rect x="1125.40" y="1509.80" width="37.10" height="90.00" fill="#d6d6d6" stroke="none" stroke-width="0"/>
<line x1="975.20" y1="1599.80" x2="975.20" y2="1606.80" stroke="#000" stroke-width="2.2"/>
<line x1="1029.90" y1="1599.80" x2="1029.90" y2="1606.80" stroke="#000" stroke-width="2.2"/>
<line x1="1087.00" y1="1599.80" x2="1087.00" y2="1606.80" stroke="#000" stroke-width="2.2"/>
<line x1="1144.00" y1="1599.80" x2="1144.00" y2="1606.80" stroke="#000" stroke-width="2.2"/>
<circle cx="974.40" cy="1563.20" r="6.2" fill="none" stroke="#111" stroke-width="2.2"/>
<circle cx="975.80" cy="1562.50" r="6.2" fill="none" stroke="#111" stroke-width="2.2"/>
<circle cx="1029.90" cy="1465.20" r="6.2" fill="none" stroke="#111" stroke-width="2.2"/>
<circle cx="1085.10" cy="1390.80" r="6.2" fill="none" stroke="#111" stroke-width="2.2"/>
<circle cx="1086.80" cy="1389.50" r="6.2" fill="none" stroke="#111" stroke-width="2.2"/>
<circle cx="1144.00" cy="1511.20" r="6.2" fill="none" stroke="#111" stroke-width="2.2"/>
<circle cx="1147.00" cy="1511.20" r="6.2" fill="none" stroke="#111" stroke-width="2.2"/>
<circle cx="975.20" cy="1631.50" r="19.7" fill="none" stroke="#111" stroke-width="2"/>
<text x="966.72" y="1641.51" font-size="29" fill="#000" stroke="#000">1</text>
<circle cx="1033.20" cy="1631.50" r="19.7" fill="none" stroke="#111" stroke-width="2"/>
<text x="1025.15" y="1641.36" font-size="29" fill="#000" stroke="#000">5</text>
<circle cx="1087.90" cy="1631.50" r="19.7" fill="none" stroke="#111" stroke-width="2"/>
<text x="1079.71" y="1641.51" font-size="29" fill="#000" stroke="#000">6</text>
<circle cx="1148.60" cy="1631.50" r="19.7" fill="none" stroke="#111" stroke-width="2"/>
<text x="1140.55" y="1641.51" font-size="29" fill="#000" stroke="#000">7</text>
<path d="M963.4,1276.5 V1263.4 H1092 V1276.5" fill="none" stroke="#111" stroke-width="2"/>
<path d="M1022.8,1318.1 V1304.4 H1088.4 V1318.1" fill="none" stroke="#111" stroke-width="2"/>
<path d="M1100.7,1318.1 V1304.4 H1169.1 V1318.1" fill="none" stroke="#111" stroke-width="2"/>
<text x="1006.02" y="1267.92" font-size="28" fill="#000" stroke="#000" textLength="29.70" lengthAdjust="spacingAndGlyphs">***</text>
<text x="1036.12" y="1310.82" font-size="28" fill="#000" stroke="#000" textLength="29.39" lengthAdjust="spacingAndGlyphs">***</text>
<text x="1117.62" y="1310.82" font-size="28" fill="#000" stroke="#000" textLength="29.39" lengthAdjust="spacingAndGlyphs">***</text>
<text x="1254.48" y="892.80" font-size="48" fill="#000" stroke="#000" font-weight="bold">f</text>
<line x1="1372.40" y1="1031.20" x2="1372.40" y2="1054.40" stroke="#c9d3d3" stroke-width="1.0"/>
<line x1="1372.40" y1="1056.00" x2="1372.40" y2="1079.20" stroke="#c9d3d3" stroke-width="1.0"/>
<line x1="1377.60" y1="1031.20" x2="1377.60" y2="1054.40" stroke="#c9d3d3" stroke-width="1.0"/>
<line x1="1377.60" y1="1056.00" x2="1377.60" y2="1079.20" stroke="#c9d3d3" stroke-width="1.0"/>
<line x1="1381.60" y1="1031.20" x2="1381.60" y2="1054.40" stroke="#c9d3d3" stroke-width="1.0"/>
<line x1="1381.60" y1="1056.00" x2="1381.60" y2="1079.20" stroke="#c9d3d3" stroke-width="1.0"/>
<line x1="1386.80" y1="1031.20" x2="1386.80" y2="1054.40" stroke="#c9d3d3" stroke-width="1.0"/>
<line x1="1386.80" y1="1056.00" x2="1386.80" y2="1079.20" stroke="#c9d3d3" stroke-width="1.0"/>
<line x1="1390.50" y1="1031.20" x2="1390.50" y2="1054.40" stroke="#c9d3d3" stroke-width="1.0"/>
<line x1="1390.50" y1="1056.00" x2="1390.50" y2="1079.20" stroke="#c9d3d3" stroke-width="1.0"/>
<line x1="1395.70" y1="1031.20" x2="1395.70" y2="1054.40" stroke="#c9d3d3" stroke-width="1.0"/>
<line x1="1395.70" y1="1056.00" x2="1395.70" y2="1079.20" stroke="#c9d3d3" stroke-width="1.0"/>
<line x1="1399.40" y1="1031.20" x2="1399.40" y2="1054.40" stroke="#c9d3d3" stroke-width="1.0"/>
<line x1="1399.40" y1="1056.00" x2="1399.40" y2="1079.20" stroke="#c9d3d3" stroke-width="1.0"/>
<line x1="1404.60" y1="1031.20" x2="1404.60" y2="1054.40" stroke="#c9d3d3" stroke-width="1.0"/>
<line x1="1404.60" y1="1056.00" x2="1404.60" y2="1079.20" stroke="#c9d3d3" stroke-width="1.0"/>
<circle cx="1375.00" cy="1029.20" r="3.2" fill="#6e9c9c" stroke="none" stroke-width="0"/>
<circle cx="1375.00" cy="1081.20" r="3.2" fill="#6e9c9c" stroke="none" stroke-width="0"/>
<circle cx="1384.20" cy="1029.20" r="3.2" fill="#6e9c9c" stroke="none" stroke-width="0"/>
<circle cx="1384.20" cy="1081.20" r="3.2" fill="#6e9c9c" stroke="none" stroke-width="0"/>
<circle cx="1393.10" cy="1029.20" r="3.2" fill="#6e9c9c" stroke="none" stroke-width="0"/>
<circle cx="1393.10" cy="1081.20" r="3.2" fill="#6e9c9c" stroke="none" stroke-width="0"/>
<circle cx="1402.00" cy="1029.20" r="3.2" fill="#6e9c9c" stroke="none" stroke-width="0"/>
<circle cx="1402.00" cy="1081.20" r="3.2" fill="#6e9c9c" stroke="none" stroke-width="0"/>
<line x1="1485.40" y1="1031.20" x2="1485.40" y2="1054.40" stroke="#c9d3d3" stroke-width="1.0"/>
<line x1="1485.40" y1="1056.00" x2="1485.40" y2="1079.20" stroke="#c9d3d3" stroke-width="1.0"/>
<line x1="1490.60" y1="1031.20" x2="1490.60" y2="1054.40" stroke="#c9d3d3" stroke-width="1.0"/>
<line x1="1490.60" y1="1056.00" x2="1490.60" y2="1079.20" stroke="#c9d3d3" stroke-width="1.0"/>
<line x1="1493.40" y1="1031.20" x2="1493.40" y2="1054.40" stroke="#c9d3d3" stroke-width="1.0"/>
<line x1="1493.40" y1="1056.00" x2="1493.40" y2="1079.20" stroke="#c9d3d3" stroke-width="1.0"/>
<line x1="1498.60" y1="1031.20" x2="1498.60" y2="1054.40" stroke="#c9d3d3" stroke-width="1.0"/>
<line x1="1498.60" y1="1056.00" x2="1498.60" y2="1079.20" stroke="#c9d3d3" stroke-width="1.0"/>
<line x1="1502.60" y1="1031.20" x2="1502.60" y2="1054.40" stroke="#c9d3d3" stroke-width="1.0"/>
<line x1="1502.60" y1="1056.00" x2="1502.60" y2="1079.20" stroke="#c9d3d3" stroke-width="1.0"/>
<line x1="1507.80" y1="1031.20" x2="1507.80" y2="1054.40" stroke="#c9d3d3" stroke-width="1.0"/>
<line x1="1507.80" y1="1056.00" x2="1507.80" y2="1079.20" stroke="#c9d3d3" stroke-width="1.0"/>
<line x1="1511.60" y1="1031.20" x2="1511.60" y2="1054.40" stroke="#c9d3d3" stroke-width="1.0"/>
<line x1="1511.60" y1="1056.00" x2="1511.60" y2="1079.20" stroke="#c9d3d3" stroke-width="1.0"/>
<line x1="1516.80" y1="1031.20" x2="1516.80" y2="1054.40" stroke="#c9d3d3" stroke-width="1.0"/>
<line x1="1516.80" y1="1056.00" x2="1516.80" y2="1079.20" stroke="#c9d3d3" stroke-width="1.0"/>
<circle cx="1488.00" cy="1029.20" r="3.2" fill="#6e9c9c" stroke="none" stroke-width="0"/>
<circle cx="1488.00" cy="1081.20" r="3.2" fill="#6e9c9c" stroke="none" stroke-width="0"/>
<circle cx="1496.00" cy="1029.20" r="3.2" fill="#6e9c9c" stroke="none" stroke-width="0"/>
<circle cx="1496.00" cy="1081.20" r="3.2" fill="#6e9c9c" stroke="none" stroke-width="0"/>
<circle cx="1505.20" cy="1029.20" r="3.2" fill="#6e9c9c" stroke="none" stroke-width="0"/>
<circle cx="1505.20" cy="1081.20" r="3.2" fill="#6e9c9c" stroke="none" stroke-width="0"/>
<circle cx="1514.20" cy="1029.20" r="3.2" fill="#6e9c9c" stroke="none" stroke-width="0"/>
<circle cx="1514.20" cy="1081.20" r="3.2" fill="#6e9c9c" stroke="none" stroke-width="0"/>
<path d="M1424.5,995.8 H1437.9 V1014.5999999999999 H1452.9 V995.8 H1469 A21,21 0 0 1 1490,1016.8 V1086.9 A21,21 0 0 1 1469,1107.9 H1424.5 A21,21 0 0 1 1403.5,1086.9 V1016.8 A21,21 0 0 1 1424.5,995.8 Z" fill="#a5d3de" stroke="#111" stroke-width="2.2"/>
<path d="M1445.4,994 V985 Q1445.4,972.3 1458,972.3 H1478.6" fill="none" stroke="#a8687f" stroke-width="4.4"/>
<rect x="1437.90" y="992.90" width="15.00" height="21.70" fill="#a8687f" stroke="none" stroke-width="0"/>
<polygon points="1450.05,1017.40 1445.20,1020.20 1440.35,1017.40 1440.35,1011.80 1445.20,1009.00 1450.05,1011.80" fill="#4c9a8c"/>
<path d="M1430.7,996 C1430.7,985 1428,976 1410,970" fill="none" stroke="#2f3b8c" stroke-width="4.4"/>
<polygon points="1402.35,959.27 1406.99,965.23 1414.43,963.91 1410.19,970.16 1413.75,976.82 1406.49,974.73 1401.26,980.17 1401.01,972.62 1394.22,969.32 1401.31,966.75" fill="#2f3b8c"/>
<circle cx="1376.20" cy="956.00" r="4.6" fill="#7b80c2" stroke="none" stroke-width="0"/>
<circle cx="1392.40" cy="955.30" r="4.6" fill="#7b80c2" stroke="none" stroke-width="0"/>
<circle cx="1385.90" cy="965.70" r="4.6" fill="#7b80c2" stroke="none" stroke-width="0"/>
<path d="M1419,962.6 Q1440,940 1460,960" fill="none" stroke="#111" stroke-width="2"/>
<polygon points="1457,955 1467,957 1464,969" fill="#111"/>
<path d="M1486.0,957.4 Q1490.0,963.4 1497.0,961.4" fill="none" stroke="#6fcaa6" stroke-width="2.6" stroke-linecap="round"/>
<path d="M1487.0,964.4 Q1491.0,970.4 1498.0,968.4" fill="none" stroke="#6fcaa6" stroke-width="2.6" stroke-linecap="round"/>
<path d="M1488.0,971.4 Q1492.0,977.4 1499.0,975.4" fill="none" stroke="#6fcaa6" stroke-width="2.6" stroke-linecap="round"/>
<text x="1403.19" y="1057.00" font-size="29.5" fill="#000" stroke="#000" textLength="86.01" lengthAdjust="spacingAndGlyphs">GPR50</text>
<text x="1417.44" y="946.40" font-size="29.5" fill="#000" stroke="#000">BRET</text>
<text x="1274.54" y="1005.00" font-size="29.5" fill="#000" stroke="#000">Nanoluc</text>
<text x="1551.34" y="995.30" font-size="29.5" fill="#000" stroke="#000">LL-F</text>
<path d="M1599.7,1023.8 H1578 Q1565.8,1023.8 1565.8,1036 V1046" fill="none" stroke="#a8687f" stroke-width="4.2"/>
<rect x="1558.50" y="1044.90" width="14.50" height="19.40" fill="#a8687f" stroke="none" stroke-width="0"/>
<polygon points="1570.65,1068.30 1565.80,1071.10 1560.95,1068.30 1560.95,1062.70 1565.80,1059.90 1570.65,1062.70" fill="#4c9a8c"/>
<line x1="1727.80" y1="1033.50" x2="1727.80" y2="1056.85" stroke="#c9d3d3" stroke-width="1.0"/>
<line x1="1727.80" y1="1058.45" x2="1727.80" y2="1081.80" stroke="#c9d3d3" stroke-width="1.0"/>
<line x1="1733.00" y1="1033.50" x2="1733.00" y2="1056.85" stroke="#c9d3d3" stroke-width="1.0"/>
<line x1="1733.00" y1="1058.45" x2="1733.00" y2="1081.80" stroke="#c9d3d3" stroke-width="1.0"/>
<line x1="1736.40" y1="1033.50" x2="1736.40" y2="1056.85" stroke="#c9d3d3" stroke-width="1.0"/>
<line x1="1736.40" y1="1058.45" x2="1736.40" y2="1081.80" stroke="#c9d3d3" stroke-width="1.0"/>
<line x1="1741.60" y1="1033.50" x2="1741.60" y2="1056.85" stroke="#c9d3d3" stroke-width="1.0"/>
<line x1="1741.60" y1="1058.45" x2="1741.60" y2="1081.80" stroke="#c9d3d3" stroke-width="1.0"/>
<line x1="1745.40" y1="1033.50" x2="1745.40" y2="1056.85" stroke="#c9d3d3" stroke-width="1.0"/>
<line x1="1745.40" y1="1058.45" x2="1745.40" y2="1081.80" stroke="#c9d3d3" stroke-width="1.0"/>
<line x1="1750.60" y1="1033.50" x2="1750.60" y2="1056.85" stroke="#c9d3d3" stroke-width="1.0"/>
<line x1="1750.60" y1="1058.45" x2="1750.60" y2="1081.80" stroke="#c9d3d3" stroke-width="1.0"/>
<line x1="1753.90" y1="1033.50" x2="1753.90" y2="1056.85" stroke="#c9d3d3" stroke-width="1.0"/>
<line x1="1753.90" y1="1058.45" x2="1753.90" y2="1081.80" stroke="#c9d3d3" stroke-width="1.0"/>
<line x1="1759.10" y1="1033.50" x2="1759.10" y2="1056.85" stroke="#c9d3d3" stroke-width="1.0"/>
<line x1="1759.10" y1="1058.45" x2="1759.10" y2="1081.80" stroke="#c9d3d3" stroke-width="1.0"/>
<circle cx="1730.40" cy="1031.50" r="3.2" fill="#6e9c9c" stroke="none" stroke-width="0"/>
<circle cx="1730.40" cy="1083.80" r="3.2" fill="#6e9c9c" stroke="none" stroke-width="0"/>
<circle cx="1739.00" cy="1031.50" r="3.2" fill="#6e9c9c" stroke="none" stroke-width="0"/>
<circle cx="1739.00" cy="1083.80" r="3.2" fill="#6e9c9c" stroke="none" stroke-width="0"/>
<circle cx="1748.00" cy="1031.50" r="3.2" fill="#6e9c9c" stroke="none" stroke-width="0"/>
<circle cx="1748.00" cy="1083.80" r="3.2" fill="#6e9c9c" stroke="none" stroke-width="0"/>
<circle cx="1756.50" cy="1031.50" r="3.2" fill="#6e9c9c" stroke="none" stroke-width="0"/>
<circle cx="1756.50" cy="1083.80" r="3.2" fill="#6e9c9c" stroke="none" stroke-width="0"/>
<line x1="1845.20" y1="1033.50" x2="1845.20" y2="1056.85" stroke="#c9d3d3" stroke-width="1.0"/>
<line x1="1845.20" y1="1058.45" x2="1845.20" y2="1081.80" stroke="#c9d3d3" stroke-width="1.0"/>
<line x1="1850.40" y1="1033.50" x2="1850.40" y2="1056.85" stroke="#c9d3d3" stroke-width="1.0"/>
<line x1="1850.40" y1="1058.45" x2="1850.40" y2="1081.80" stroke="#c9d3d3" stroke-width="1.0"/>
<line x1="1852.00" y1="1033.50" x2="1852.00" y2="1056.85" stroke="#c9d3d3" stroke-width="1.0"/>
<line x1="1852.00" y1="1058.45" x2="1852.00" y2="1081.80" stroke="#c9d3d3" stroke-width="1.0"/>
<line x1="1857.20" y1="1033.50" x2="1857.20" y2="1056.85" stroke="#c9d3d3" stroke-width="1.0"/>
<line x1="1857.20" y1="1058.45" x2="1857.20" y2="1081.80" stroke="#c9d3d3" stroke-width="1.0"/>
<line x1="1859.40" y1="1033.50" x2="1859.40" y2="1056.85" stroke="#c9d3d3" stroke-width="1.0"/>
<line x1="1859.40" y1="1058.45" x2="1859.40" y2="1081.80" stroke="#c9d3d3" stroke-width="1.0"/>
<line x1="1864.60" y1="1033.50" x2="1864.60" y2="1056.85" stroke="#c9d3d3" stroke-width="1.0"/>
<line x1="1864.60" y1="1058.45" x2="1864.60" y2="1081.80" stroke="#c9d3d3" stroke-width="1.0"/>
<line x1="1867.70" y1="1033.50" x2="1867.70" y2="1056.85" stroke="#c9d3d3" stroke-width="1.0"/>
<line x1="1867.70" y1="1058.45" x2="1867.70" y2="1081.80" stroke="#c9d3d3" stroke-width="1.0"/>
<line x1="1872.90" y1="1033.50" x2="1872.90" y2="1056.85" stroke="#c9d3d3" stroke-width="1.0"/>
<line x1="1872.90" y1="1058.45" x2="1872.90" y2="1081.80" stroke="#c9d3d3" stroke-width="1.0"/>
<circle cx="1847.80" cy="1031.50" r="3.2" fill="#6e9c9c" stroke="none" stroke-width="0"/>
<circle cx="1847.80" cy="1083.80" r="3.2" fill="#6e9c9c" stroke="none" stroke-width="0"/>
<circle cx="1854.60" cy="1031.50" r="3.2" fill="#6e9c9c" stroke="none" stroke-width="0"/>
<circle cx="1854.60" cy="1083.80" r="3.2" fill="#6e9c9c" stroke="none" stroke-width="0"/>
<circle cx="1862.00" cy="1031.50" r="3.2" fill="#6e9c9c" stroke="none" stroke-width="0"/>
<circle cx="1862.00" cy="1083.80" r="3.2" fill="#6e9c9c" stroke="none" stroke-width="0"/>
<circle cx="1870.30" cy="1031.50" r="3.2" fill="#6e9c9c" stroke="none" stroke-width="0"/>
<circle cx="1870.30" cy="1083.80" r="3.2" fill="#6e9c9c" stroke="none" stroke-width="0"/>
<path d="M1781.3,998.5 H1792.8 V1016.9 H1808.6 V998.5 H1822.8 A21,21 0 0 1 1843.8,1019.5 V1089.8 A21,21 0 0 1 1822.8,1110.8 H1781.3 A21,21 0 0 1 1760.3,1089.8 V1019.5 A21,21 0 0 1 1781.3,998.5 Z" fill="#a5d3de" stroke="#111" stroke-width="2.2"/>
<path d="M1800.7,996 V988 Q1800.7,973.8 1815,973.8 H1828" fill="none" stroke="#a8687f" stroke-width="4.4"/>
<rect x="1792.80" y="994.50" width="15.80" height="22.40" fill="#a8687f" stroke="none" stroke-width="0"/>
<polygon points="1838.57,975.60 1833.20,978.70 1827.83,975.60 1827.83,969.40 1833.20,966.30 1838.57,969.40" fill="#4c9a8c"/>
<path d="M1787.2,999 C1787.2,988 1784,979 1766,974" fill="none" stroke="#2f3b8c" stroke-width="4.4"/>
<polygon points="1758.55,962.57 1763.19,968.53 1770.63,967.21 1766.39,973.46 1769.95,980.12 1762.69,978.03 1757.46,983.47 1757.21,975.92 1750.42,972.62 1757.51,970.05" fill="#2f3b8c"/>
<circle cx="1733.40" cy="958.60" r="4.6" fill="#7b80c2" stroke="none" stroke-width="0"/>
<circle cx="1748.40" cy="957.40" r="4.6" fill="#7b80c2" stroke="none" stroke-width="0"/>
<circle cx="1742.30" cy="968.20" r="4.6" fill="#7b80c2" stroke="none" stroke-width="0"/>
<path d="M1774.9,964.8 Q1797,943 1817,962" fill="none" stroke="#111" stroke-width="2"/>
<polygon points="1813.5,958 1823.5,959.5 1820.5,971.5" fill="#111"/>
<path d="M1844.0,959.8 Q1848.0,965.8 1855.0,963.8" fill="none" stroke="#6fcaa6" stroke-width="2.6" stroke-linecap="round"/>
<path d="M1845.0,966.8 Q1849.0,972.8 1856.0,970.8" fill="none" stroke="#6fcaa6" stroke-width="2.6" stroke-linecap="round"/>
<path d="M1846.0,973.8 Q1850.0,979.8 1857.0,977.8" fill="none" stroke="#6fcaa6" stroke-width="2.6" stroke-linecap="round"/>
<text x="1757.39" y="1057.30" font-size="29.5" fill="#000" stroke="#000" textLength="85.71" lengthAdjust="spacingAndGlyphs">GPR50</text>
<text x="1773.64" y="948.50" font-size="29.5" fill="#000" stroke="#000">BRET</text>
<text x="1638.34" y="1005.70" font-size="29.5" fill="#000" stroke="#000">Nanoluc</text>
<text x="1910.54" y="994.90" font-size="29.5" fill="#000" stroke="#000">F-LL</text>
<rect x="1921.90" y="1047.20" width="11.20" height="17.30" fill="#a8687f" stroke="none" stroke-width="0"/>
<path d="M1927.5,1048 V1042 Q1927.5,1030 1939,1030 H1950" fill="none" stroke="#a8687f" stroke-width="4.2"/>
<polygon points="1960.56,1036.10 1954.50,1039.60 1948.44,1036.10 1948.44,1029.10 1954.50,1025.60 1960.56,1029.10" fill="#4c9a8c"/>
<circle cx="1357.30" cy="1187.00" r="9.7" fill="#a8687f" stroke="none" stroke-width="0"/>
<text x="1383.54" y="1197.50" font-size="29.5" fill="#000" stroke="#000">LL-F</text>
<circle cx="1357.30" cy="1228.90" r="9.7" fill="#6d6aa3" stroke="none" stroke-width="0"/>
<text x="1383.54" y="1238.60" font-size="29.5" fill="#000" stroke="#000">LL-F+LL</text>
<circle cx="1734.90" cy="1187.10" r="9.7" fill="#a8687f" stroke="none" stroke-width="0"/>
<text x="1761.34" y="1197.60" font-size="29.5" fill="#000" stroke="#000">F-LL</text>
<circle cx="1734.90" cy="1227.90" r="9.7" fill="#6d6aa3" stroke="none" stroke-width="0"/>
<text x="1761.34" y="1238.00" font-size="29.5" fill="#000" stroke="#000">F-LL+LL</text>
<line x1="1304.40" y1="1328.50" x2="1304.40" y2="1604.20" stroke="#000" stroke-width="2.2"/>
<line x1="1303.40" y1="1603.20" x2="1616.40" y2="1603.20" stroke="#000" stroke-width="2.2"/>
<line x1="1297.40" y1="1329.60" x2="1304.40" y2="1329.60" stroke="#000" stroke-width="2.2"/>
<line x1="1297.40" y1="1432.20" x2="1304.40" y2="1432.20" stroke="#000" stroke-width="2.2"/>
<line x1="1297.40" y1="1534.90" x2="1304.40" y2="1534.90" stroke="#000" stroke-width="2.2"/>
<text x="1274.21" y="1339.80" font-size="29.5" fill="#000" stroke="#000">6</text>
<text x="1274.21" y="1442.40" font-size="29.5" fill="#000" stroke="#000">3</text>
<text x="1274.06" y="1545.10" font-size="29.5" fill="#000" stroke="#000">0</text>
<line x1="1304.40" y1="1603.20" x2="1304.40" y2="1610.20" stroke="#000" stroke-width="2.2"/>
<line x1="1447.10" y1="1603.20" x2="1447.10" y2="1610.20" stroke="#000" stroke-width="2.2"/>
<line x1="1587.50" y1="1603.20" x2="1587.50" y2="1610.20" stroke="#000" stroke-width="2.2"/>
<text x="1296.02" y="1637.20" font-size="29.5" fill="#000" stroke="#000">0</text>
<text x="1430.65" y="1638.38" font-size="29.5" fill="#000" stroke="#000">50</text>
<text x="1556.82" y="1637.20" font-size="29.5" fill="#000" stroke="#000">100</text>
<text x="1409.64" y="1677.80" font-size="29.5" fill="#000" stroke="#000">LL-F (nM)</text>
<text transform="translate(1254.80,1650.00) rotate(-90)" x="-2.35" y="0" font-size="29.5" fill="#000" stroke="#000" textLength="327.17" lengthAdjust="spacingAndGlyphs">Relative nBRET ratio (%)</text>
<text x="1318.64" y="1300.90" font-size="29.5" fill="#000" stroke="#000">EC</text>
<text x="1358.64" y="1305.50" font-size="19" fill="#000" stroke="#000">50</text>
<text x="1382.22" y="1300.90" font-size="29.5" fill="#000" stroke="#000" textLength="222.57" lengthAdjust="spacingAndGlyphs">= 6.38 ± 4.47 nM</text>
<circle cx="1302.80" cy="1535.00" r="9.5" fill="#6d6aa3" stroke="none" stroke-width="0"/>
<circle cx="1315.50" cy="1566.90" r="9.5" fill="#6d6aa3" stroke="none" stroke-width="0"/>
<line x1="1327.10" y1="1496.60" x2="1327.10" y2="1547.00" stroke="#6d6aa3" stroke-width="2"/>
<line x1="1322.60" y1="1496.60" x2="1331.60" y2="1496.60" stroke="#6d6aa3" stroke-width="2"/>
<line x1="1327.10" y1="1547.00" x2="1327.10" y2="1571.50" stroke="#6d6aa3" stroke-width="2"/>
<line x1="1322.60" y1="1571.50" x2="1331.60" y2="1571.50" stroke="#6d6aa3" stroke-width="2"/>
<circle cx="1327.10" cy="1547.00" r="9.5" fill="#6d6aa3" stroke="none" stroke-width="0"/>
<line x1="1332.30" y1="1496.70" x2="1332.30" y2="1520.10" stroke="#6d6aa3" stroke-width="2"/>
<line x1="1327.80" y1="1496.70" x2="1336.80" y2="1496.70" stroke="#6d6aa3" stroke-width="2"/>
<line x1="1332.30" y1="1520.10" x2="1332.30" y2="1545.00" stroke="#6d6aa3" stroke-width="2"/>
<line x1="1327.80" y1="1545.00" x2="1336.80" y2="1545.00" stroke="#6d6aa3" stroke-width="2"/>
<circle cx="1332.30" cy="1520.10" r="9.5" fill="#6d6aa3" stroke="none" stroke-width="0"/>
<line x1="1360.60" y1="1495.30" x2="1360.60" y2="1518.40" stroke="#6d6aa3" stroke-width="2"/>
<line x1="1356.10" y1="1495.30" x2="1365.10" y2="1495.30" stroke="#6d6aa3" stroke-width="2"/>
<line x1="1360.60" y1="1518.40" x2="1360.60" y2="1542.00" stroke="#6d6aa3" stroke-width="2"/>
<line x1="1356.10" y1="1542.00" x2="1365.10" y2="1542.00" stroke="#6d6aa3" stroke-width="2"/>
<circle cx="1360.60" cy="1518.40" r="9.5" fill="#6d6aa3" stroke="none" stroke-width="0"/>
<line x1="1446.00" y1="1452.70" x2="1446.00" y2="1471.20" stroke="#6d6aa3" stroke-width="2"/>
<line x1="1441.50" y1="1452.70" x2="1450.50" y2="1452.70" stroke="#6d6aa3" stroke-width="2"/>
<line x1="1446.00" y1="1471.20" x2="1446.00" y2="1489.20" stroke="#6d6aa3" stroke-width="2"/>
<line x1="1441.50" y1="1489.20" x2="1450.50" y2="1489.20" stroke="#6d6aa3" stroke-width="2"/>
<circle cx="1446.00" cy="1471.20" r="9.5" fill="#6d6aa3" stroke="none" stroke-width="0"/>
<line x1="1587.50" y1="1500.90" x2="1587.50" y2="1515.80" stroke="#6d6aa3" stroke-width="2"/>
<line x1="1583.00" y1="1500.90" x2="1592.00" y2="1500.90" stroke="#6d6aa3" stroke-width="2"/>
<line x1="1587.50" y1="1515.80" x2="1587.50" y2="1531.60" stroke="#6d6aa3" stroke-width="2"/>
<line x1="1583.00" y1="1531.60" x2="1592.00" y2="1531.60" stroke="#6d6aa3" stroke-width="2"/>
<circle cx="1587.50" cy="1515.80" r="9.5" fill="#6d6aa3" stroke="none" stroke-width="0"/>
<path d="M1304.4,1531.6 L1590.8,1499.1" fill="none" stroke="#6d6aa3" stroke-width="6" stroke-dasharray="20,18.5"/>
<line x1="1306.30" y1="1519.40" x2="1306.30" y2="1540.60" stroke="#a8687f" stroke-width="2"/>
<line x1="1301.80" y1="1519.40" x2="1310.80" y2="1519.40" stroke="#a8687f" stroke-width="2"/>
<line x1="1306.30" y1="1540.60" x2="1306.30" y2="1551.30" stroke="#a8687f" stroke-width="2"/>
<line x1="1301.80" y1="1551.30" x2="1310.80" y2="1551.30" stroke="#a8687f" stroke-width="2"/>
<circle cx="1306.30" cy="1540.60" r="9.5" fill="#a8687f" stroke="none" stroke-width="0"/>
<line x1="1315.50" y1="1486.00" x2="1315.50" y2="1499.50" stroke="#a8687f" stroke-width="2"/>
<line x1="1311.00" y1="1486.00" x2="1320.00" y2="1486.00" stroke="#a8687f" stroke-width="2"/>
<line x1="1315.50" y1="1499.50" x2="1315.50" y2="1515.10" stroke="#a8687f" stroke-width="2"/>
<line x1="1311.00" y1="1515.10" x2="1320.00" y2="1515.10" stroke="#a8687f" stroke-width="2"/>
<circle cx="1315.50" cy="1499.50" r="9.5" fill="#a8687f" stroke="none" stroke-width="0"/>
<line x1="1327.10" y1="1452.30" x2="1327.10" y2="1484.90" stroke="#a8687f" stroke-width="2"/>
<line x1="1322.60" y1="1452.30" x2="1331.60" y2="1452.30" stroke="#a8687f" stroke-width="2"/>
<line x1="1327.10" y1="1484.90" x2="1327.10" y2="1490.00" stroke="#a8687f" stroke-width="2"/>
<line x1="1322.60" y1="1490.00" x2="1331.60" y2="1490.00" stroke="#a8687f" stroke-width="2"/>
<circle cx="1327.10" cy="1484.90" r="9.5" fill="#a8687f" stroke="none" stroke-width="0"/>
<line x1="1332.50" y1="1430.70" x2="1332.50" y2="1460.50" stroke="#a8687f" stroke-width="2"/>
<line x1="1328.00" y1="1430.70" x2="1337.00" y2="1430.70" stroke="#a8687f" stroke-width="2"/>
<line x1="1332.50" y1="1460.50" x2="1332.50" y2="1474.00" stroke="#a8687f" stroke-width="2"/>
<line x1="1328.00" y1="1474.00" x2="1337.00" y2="1474.00" stroke="#a8687f" stroke-width="2"/>
<circle cx="1332.50" cy="1460.50" r="9.5" fill="#a8687f" stroke="none" stroke-width="0"/>
<line x1="1360.60" y1="1369.80" x2="1360.60" y2="1387.50" stroke="#a8687f" stroke-width="2"/>
<line x1="1356.10" y1="1369.80" x2="1365.10" y2="1369.80" stroke="#a8687f" stroke-width="2"/>
<line x1="1360.60" y1="1387.50" x2="1360.60" y2="1405.50" stroke="#a8687f" stroke-width="2"/>
<line x1="1356.10" y1="1405.50" x2="1365.10" y2="1405.50" stroke="#a8687f" stroke-width="2"/>
<circle cx="1360.60" cy="1387.50" r="9.5" fill="#a8687f" stroke="none" stroke-width="0"/>
<line x1="1446.00" y1="1355.60" x2="1446.00" y2="1366.90" stroke="#a8687f" stroke-width="2"/>
<line x1="1441.50" y1="1355.60" x2="1450.50" y2="1355.60" stroke="#a8687f" stroke-width="2"/>
<line x1="1446.00" y1="1366.90" x2="1446.00" y2="1378.30" stroke="#a8687f" stroke-width="2"/>
<line x1="1441.50" y1="1378.30" x2="1450.50" y2="1378.30" stroke="#a8687f" stroke-width="2"/>
<circle cx="1446.00" cy="1366.90" r="9.5" fill="#a8687f" stroke="none" stroke-width="0"/>
<line x1="1587.50" y1="1341.80" x2="1587.50" y2="1356.70" stroke="#a8687f" stroke-width="2"/>
<line x1="1583.00" y1="1341.80" x2="1592.00" y2="1341.80" stroke="#a8687f" stroke-width="2"/>
<line x1="1587.50" y1="1356.70" x2="1587.50" y2="1371.30" stroke="#a8687f" stroke-width="2"/>
<line x1="1583.00" y1="1371.30" x2="1592.00" y2="1371.30" stroke="#a8687f" stroke-width="2"/>
<circle cx="1587.50" cy="1356.70" r="9.5" fill="#a8687f" stroke="none" stroke-width="0"/>
<path d="M1305.00,1545.00 C1306.63,1539.17 1311.27,1521.50 1314.80,1510.00 C1318.33,1498.50 1323.25,1485.43 1326.20,1476.00 C1329.15,1466.57 1329.55,1461.90 1332.50,1453.40 C1335.45,1444.90 1340.58,1432.80 1343.90,1425.00 C1347.22,1417.20 1349.62,1412.73 1352.40,1406.60 C1355.18,1400.47 1356.83,1393.63 1360.60,1388.20 C1364.37,1382.77 1370.23,1377.43 1375.00,1374.00 C1379.77,1370.57 1383.28,1369.37 1389.20,1367.60 C1395.12,1365.83 1403.40,1364.33 1410.50,1363.40 C1417.60,1362.47 1423.55,1362.35 1431.80,1362.00 C1440.05,1361.65 1445.30,1361.47 1460.00,1361.30 C1474.70,1361.13 1498.83,1361.13 1520.00,1361.00 C1541.17,1360.87 1575.83,1360.58 1587.00,1360.50" fill="none" stroke="#a8687f" stroke-width="5.5" stroke-linecap="butt"/>
<circle cx="1302.80" cy="1535.00" r="9.5" fill="#6d6aa3" stroke="none" stroke-width="0"/>
<text x="1407.83" y="1560.50" font-size="29.5" fill="#6d6aa3" stroke="#6d6aa3">+LL(10 μM)</text>
<line x1="1672.40" y1="1331.10" x2="1672.40" y2="1602.40" stroke="#000" stroke-width="2.2"/>
<line x1="1671.40" y1="1601.40" x2="1983.70" y2="1601.40" stroke="#000" stroke-width="2.2"/>
<line x1="1665.40" y1="1331.60" x2="1672.40" y2="1331.60" stroke="#000" stroke-width="2.2"/>
<line x1="1665.40" y1="1422.00" x2="1672.40" y2="1422.00" stroke="#000" stroke-width="2.2"/>
<line x1="1665.40" y1="1512.00" x2="1672.40" y2="1512.00" stroke="#000" stroke-width="2.2"/>
<line x1="1665.40" y1="1602.20" x2="1672.40" y2="1602.20" stroke="#000" stroke-width="2.2"/>
<text x="1647.01" y="1341.80" font-size="29.5" fill="#000" stroke="#000">3</text>
<text x="1647.30" y="1432.20" font-size="29.5" fill="#000" stroke="#000">2</text>
<text x="1647.15" y="1522.20" font-size="29.5" fill="#000" stroke="#000">1</text>
<text x="1646.86" y="1612.40" font-size="29.5" fill="#000" stroke="#000">0</text>
<line x1="1672.40" y1="1601.40" x2="1672.40" y2="1608.40" stroke="#000" stroke-width="2.2"/>
<line x1="1813.90" y1="1601.40" x2="1813.90" y2="1608.40" stroke="#000" stroke-width="2.2"/>
<line x1="1955.00" y1="1601.40" x2="1955.00" y2="1608.40" stroke="#000" stroke-width="2.2"/>
<text x="1662.24" y="1635.48" font-size="29.5" fill="#000" stroke="#000">0</text>
<text x="1797.45" y="1635.48" font-size="29.5" fill="#000" stroke="#000">50</text>
<text x="1928.35" y="1635.48" font-size="29.5" fill="#000" stroke="#000">100</text>
<text x="1782.74" y="1677.80" font-size="29.5" fill="#000" stroke="#000">F-LL (nM)</text>
<text x="1672.64" y="1300.40" font-size="29.5" fill="#000" stroke="#000">EC</text>
<text x="1713.34" y="1309.90" font-size="19" fill="#000" stroke="#000">50</text>
<text x="1732.33" y="1300.40" font-size="29.5" fill="#000" stroke="#000" textLength="212.40" lengthAdjust="spacingAndGlyphs">=7.99 ± 1.12 nM</text>
<line x1="1674.90" y1="1571.70" x2="1674.90" y2="1581.20" stroke="#6d6aa3" stroke-width="2"/>
<line x1="1670.40" y1="1581.20" x2="1679.40" y2="1581.20" stroke="#6d6aa3" stroke-width="2"/>
<circle cx="1674.90" cy="1571.70" r="9.5" fill="#6d6aa3" stroke="none" stroke-width="0"/>
<line x1="1685.50" y1="1520.00" x2="1685.50" y2="1550.70" stroke="#6d6aa3" stroke-width="2"/>
<line x1="1681.00" y1="1520.00" x2="1690.00" y2="1520.00" stroke="#6d6aa3" stroke-width="2"/>
<line x1="1685.50" y1="1550.70" x2="1685.50" y2="1581.20" stroke="#6d6aa3" stroke-width="2"/>
<line x1="1681.00" y1="1581.20" x2="1690.00" y2="1581.20" stroke="#6d6aa3" stroke-width="2"/>
<circle cx="1685.50" cy="1550.70" r="9.5" fill="#6d6aa3" stroke="none" stroke-width="0"/>
<line x1="1695.00" y1="1531.70" x2="1695.00" y2="1550.70" stroke="#6d6aa3" stroke-width="2"/>
<line x1="1690.50" y1="1550.70" x2="1699.50" y2="1550.70" stroke="#6d6aa3" stroke-width="2"/>
<circle cx="1695.00" cy="1531.70" r="9.5" fill="#6d6aa3" stroke="none" stroke-width="0"/>
<line x1="1700.50" y1="1505.20" x2="1700.50" y2="1520.10" stroke="#6d6aa3" stroke-width="2"/>
<line x1="1696.00" y1="1505.20" x2="1705.00" y2="1505.20" stroke="#6d6aa3" stroke-width="2"/>
<circle cx="1700.50" cy="1520.10" r="9.5" fill="#6d6aa3" stroke="none" stroke-width="0"/>
<line x1="1729.30" y1="1486.20" x2="1729.30" y2="1506.50" stroke="#6d6aa3" stroke-width="2"/>
<line x1="1724.80" y1="1486.20" x2="1733.80" y2="1486.20" stroke="#6d6aa3" stroke-width="2"/>
<line x1="1729.30" y1="1506.50" x2="1729.30" y2="1524.90" stroke="#6d6aa3" stroke-width="2"/>
<line x1="1724.80" y1="1524.90" x2="1733.80" y2="1524.90" stroke="#6d6aa3" stroke-width="2"/>
<circle cx="1729.30" cy="1506.50" r="9.5" fill="#6d6aa3" stroke="none" stroke-width="0"/>
<line x1="1813.80" y1="1459.40" x2="1813.80" y2="1483.40" stroke="#6d6aa3" stroke-width="2"/>
<line x1="1809.30" y1="1459.40" x2="1818.30" y2="1459.40" stroke="#6d6aa3" stroke-width="2"/>
<line x1="1813.80" y1="1483.40" x2="1813.80" y2="1507.50" stroke="#6d6aa3" stroke-width="2"/>
<line x1="1809.30" y1="1507.50" x2="1818.30" y2="1507.50" stroke="#6d6aa3" stroke-width="2"/>
<circle cx="1813.80" cy="1483.40" r="9.5" fill="#6d6aa3" stroke="none" stroke-width="0"/>
<line x1="1955.50" y1="1468.40" x2="1955.50" y2="1492.20" stroke="#6d6aa3" stroke-width="2"/>
<line x1="1951.00" y1="1468.40" x2="1960.00" y2="1468.40" stroke="#6d6aa3" stroke-width="2"/>
<line x1="1955.50" y1="1492.20" x2="1955.50" y2="1515.20" stroke="#6d6aa3" stroke-width="2"/>
<line x1="1951.00" y1="1515.20" x2="1960.00" y2="1515.20" stroke="#6d6aa3" stroke-width="2"/>
<circle cx="1955.50" cy="1492.20" r="9.5" fill="#6d6aa3" stroke="none" stroke-width="0"/>
<path d="M1674,1539.7 L1956.3,1478.8" fill="none" stroke="#6d6aa3" stroke-width="6" stroke-dasharray="16,8.5"/>
<circle cx="1673.60" cy="1556.10" r="9.5" fill="#a8687f" stroke="none" stroke-width="0"/>
<line x1="1683.40" y1="1489.50" x2="1683.40" y2="1509.90" stroke="#a8687f" stroke-width="2"/>
<line x1="1678.90" y1="1489.50" x2="1687.90" y2="1489.50" stroke="#a8687f" stroke-width="2"/>
<line x1="1683.40" y1="1509.90" x2="1683.40" y2="1530.00" stroke="#a8687f" stroke-width="2"/>
<line x1="1678.90" y1="1530.00" x2="1687.90" y2="1530.00" stroke="#a8687f" stroke-width="2"/>
<circle cx="1683.40" cy="1509.90" r="9.5" fill="#a8687f" stroke="none" stroke-width="0"/>
<line x1="1695.00" y1="1463.50" x2="1695.00" y2="1475.30" stroke="#a8687f" stroke-width="2"/>
<line x1="1690.50" y1="1463.50" x2="1699.50" y2="1463.50" stroke="#a8687f" stroke-width="2"/>
<circle cx="1695.00" cy="1475.30" r="9.5" fill="#a8687f" stroke="none" stroke-width="0"/>
<circle cx="1700.80" cy="1484.10" r="9.5" fill="#a8687f" stroke="none" stroke-width="0"/>
<line x1="1729.30" y1="1387.70" x2="1729.30" y2="1410.80" stroke="#a8687f" stroke-width="2"/>
<line x1="1724.80" y1="1387.70" x2="1733.80" y2="1387.70" stroke="#a8687f" stroke-width="2"/>
<line x1="1729.30" y1="1410.80" x2="1729.30" y2="1434.50" stroke="#a8687f" stroke-width="2"/>
<line x1="1724.80" y1="1434.50" x2="1733.80" y2="1434.50" stroke="#a8687f" stroke-width="2"/>
<circle cx="1729.30" cy="1410.80" r="9.5" fill="#a8687f" stroke="none" stroke-width="0"/>
<line x1="1813.80" y1="1376.10" x2="1813.80" y2="1407.00" stroke="#a8687f" stroke-width="2"/>
<line x1="1809.30" y1="1376.10" x2="1818.30" y2="1376.10" stroke="#a8687f" stroke-width="2"/>
<line x1="1813.80" y1="1407.00" x2="1813.80" y2="1437.90" stroke="#a8687f" stroke-width="2"/>
<line x1="1809.30" y1="1437.90" x2="1818.30" y2="1437.90" stroke="#a8687f" stroke-width="2"/>
<circle cx="1813.80" cy="1407.00" r="9.5" fill="#a8687f" stroke="none" stroke-width="0"/>
<line x1="1955.50" y1="1357.20" x2="1955.50" y2="1373.80" stroke="#a8687f" stroke-width="2"/>
<line x1="1951.00" y1="1357.20" x2="1960.00" y2="1357.20" stroke="#a8687f" stroke-width="2"/>
<line x1="1955.50" y1="1373.80" x2="1955.50" y2="1389.00" stroke="#a8687f" stroke-width="2"/>
<line x1="1951.00" y1="1389.00" x2="1960.00" y2="1389.00" stroke="#a8687f" stroke-width="2"/>
<circle cx="1955.50" cy="1373.80" r="9.5" fill="#a8687f" stroke="none" stroke-width="0"/>
<path d="M1673.60,1557.50 C1674.73,1552.28 1678.13,1535.95 1680.40,1526.20 C1682.67,1516.45 1684.72,1507.83 1687.20,1499.00 C1689.68,1490.17 1692.37,1480.67 1695.30,1473.20 C1698.23,1465.73 1701.17,1460.77 1704.80,1454.20 C1708.43,1447.63 1713.02,1439.92 1717.10,1433.80 C1721.18,1427.68 1725.23,1421.57 1729.30,1417.50 C1733.37,1413.43 1736.07,1412.12 1741.50,1409.40 C1746.93,1406.68 1755.10,1403.23 1761.90,1401.20 C1768.70,1399.17 1774.38,1398.22 1782.30,1397.20 C1790.22,1396.18 1799.78,1395.52 1809.40,1395.10 C1819.02,1394.68 1824.90,1394.83 1840.00,1394.70 C1855.10,1394.57 1880.18,1394.45 1900.00,1394.30 C1919.82,1394.15 1949.08,1393.88 1958.90,1393.80" fill="none" stroke="#a8687f" stroke-width="5.5" stroke-linecap="butt"/>
<text x="1798.83" y="1556.70" font-size="29.5" fill="#6d6aa3" stroke="#6d6aa3">+LL(10 μM)</text>
</svg>
</body></html>
